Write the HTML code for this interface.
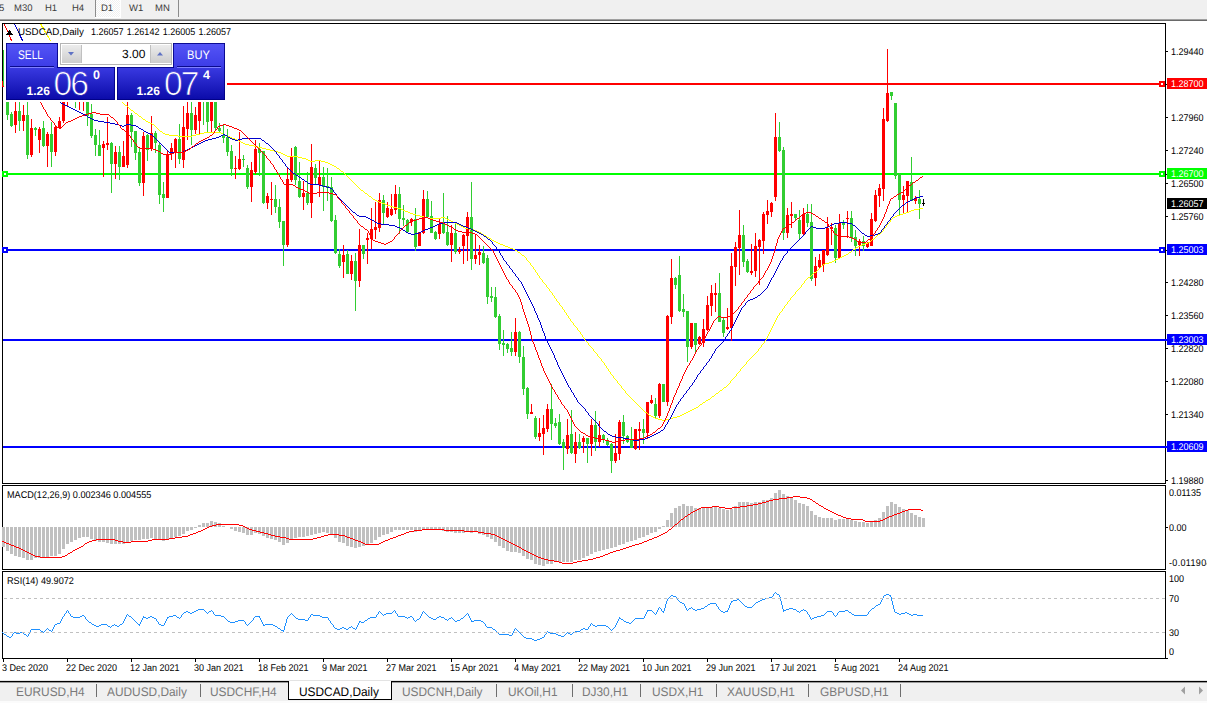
<!DOCTYPE html>
<html><head><meta charset="utf-8"><title>USDCAD,Daily</title>
<style>
html,body{margin:0;padding:0}
body{width:1207px;height:703px;overflow:hidden;background:#f0f0f0;position:relative;font-family:"Liberation Sans",sans-serif;color:#000;text-rendering:geometricPrecision}
.abs{position:absolute;white-space:nowrap;line-height:1}
#tb span{position:absolute;top:3px;font-size:9.5px;color:#3c3c3c;line-height:12px}
#white{left:0;top:21px;width:1207px;height:659px;background:#fff}
.ax{position:absolute;margin-top:1px;left:1171px;font-size:9.8px;line-height:10px;white-space:nowrap;transform:scaleX(0.92);transform-origin:0 0}
.tag{position:absolute;left:1167px;width:40px;height:11px;color:#fff;white-space:nowrap}
.tag span{position:absolute;left:4px;top:1px;font-size:9.8px;line-height:11px;transform:scaleX(0.92);transform-origin:0 0}
.dt{position:absolute;top:664px;font-size:9.8px;line-height:10px;white-space:nowrap;transform:scaleX(0.92);transform-origin:0 0}
.tab{position:absolute;top:685px;font-size:12.5px;line-height:14px;color:#7a7a7a;white-space:nowrap;transform:scaleX(0.95);transform-origin:0 0}
.sep{position:absolute;top:684px;width:1px;height:13px;background:#6e6e6e}
svg{position:absolute;left:0;top:0}
#panel{position:absolute;left:0;top:0}
#panel div{position:absolute;white-space:nowrap;line-height:1}
</style></head><body>
<div class="abs" style="left:96px;top:0;width:24px;height:17px;background:conic-gradient(#fff 25%,#f0f0f0 0 50%,#fff 0 75%,#f0f0f0 0);background-size:2px 2px"></div>
<div class="abs" style="left:95px;top:17px;width:26px;height:1px;background:#fff"></div>
<div class="abs" style="left:120px;top:0;width:1px;height:17px;background:#fff"></div>
<div id="tb">
<span style="left:-1px">5</span><span style="left:14px">M30</span><span style="left:45px">H1</span><span style="left:72px">H4</span>
<span style="left:101px">D1</span><span style="left:129px">W1</span><span style="left:155px">MN</span>
</div>
<div class="abs" style="left:95px;top:0;width:1px;height:17px;background:#8c8c8c"></div>
<div class="abs" style="left:178px;top:0;width:1px;height:17px;background:#8c8c8c"></div>
<div class="abs" style="left:0;top:19px;width:1207px;height:1px;background:#a0a0a0"></div>
<div class="abs" style="left:0;top:20px;width:1207px;height:1px;background:#696969"></div>
<div class="abs" id="white"></div>
<svg width="1207" height="703" viewBox="0 0 1207 703" shape-rendering="crispEdges">
<!-- pane frames -->
<g fill="none" stroke="#000" stroke-width="1">
<rect x="2.5" y="23.5" width="1163" height="460"/>
<rect x="2.5" y="485.5" width="1163" height="84"/>
<rect x="2.5" y="571.5" width="1163" height="87"/>
</g>
<!-- MA heads -->
<g fill="none" stroke-width="1">
<polyline stroke="#ff0000" points="4,24 8,32 11.5,41"/>
<polyline stroke="#0000cd" points="14.5,24 18,31 22.5,41"/>
<polyline stroke="#ffff00" points="41,24 45,31 50.5,41"/>
</g>
<!-- horizontal levels -->
<rect x="3" y="83" width="1162" height="2" fill="#ff0000"/>
<rect x="3" y="173" width="1162" height="2" fill="#00ff00"/>
<rect x="3" y="249" width="1162" height="2" fill="#0000ff"/>
<rect x="3" y="339" width="1164" height="2" fill="#0000ff"/>
<rect x="3" y="446" width="1164" height="2" fill="#0000ff"/>
<rect x="3" y="50" width="1" height="36" fill="#32cd32"/>
<rect x="2" y="52" width="3" height="34" fill="#32cd32"/>
<rect x="7" y="92" width="1" height="28" fill="#32cd32"/>
<rect x="6" y="96" width="3" height="19" fill="#32cd32"/>
<rect x="11" y="112" width="1" height="15" fill="#32cd32"/>
<rect x="10" y="114" width="3" height="12" fill="#32cd32"/>
<rect x="15" y="95" width="1" height="38" fill="#ff0000"/>
<rect x="14" y="111" width="3" height="14" fill="#ff0000"/>
<rect x="19" y="100" width="1" height="31" fill="#32cd32"/>
<rect x="18" y="111" width="3" height="10" fill="#32cd32"/>
<rect x="23" y="105" width="1" height="26" fill="#ff0000"/>
<rect x="22" y="115" width="3" height="6" fill="#ff0000"/>
<rect x="27" y="96" width="1" height="63" fill="#32cd32"/>
<rect x="26" y="115" width="3" height="40" fill="#32cd32"/>
<rect x="31" y="119" width="1" height="38" fill="#ff0000"/>
<rect x="30" y="128" width="3" height="27" fill="#ff0000"/>
<rect x="35" y="127" width="1" height="9" fill="#32cd32"/>
<rect x="34" y="128" width="3" height="2" fill="#32cd32"/>
<rect x="39" y="127" width="1" height="26" fill="#ff0000"/>
<rect x="38" y="129" width="3" height="11" fill="#ff0000"/>
<rect x="43" y="121" width="1" height="26" fill="#32cd32"/>
<rect x="42" y="128" width="3" height="18" fill="#32cd32"/>
<rect x="47" y="132" width="1" height="35" fill="#ff0000"/>
<rect x="46" y="134" width="3" height="12" fill="#ff0000"/>
<rect x="51" y="122" width="1" height="45" fill="#32cd32"/>
<rect x="50" y="134" width="3" height="18" fill="#32cd32"/>
<rect x="55" y="125" width="1" height="31" fill="#ff0000"/>
<rect x="54" y="127" width="3" height="25" fill="#ff0000"/>
<rect x="59" y="117" width="1" height="12" fill="#ff0000"/>
<rect x="58" y="121" width="3" height="7" fill="#ff0000"/>
<rect x="63" y="93" width="1" height="30" fill="#ff0000"/>
<rect x="62" y="97" width="3" height="24" fill="#ff0000"/>
<rect x="67" y="85" width="1" height="22" fill="#ff0000"/>
<rect x="66" y="88" width="3" height="12" fill="#ff0000"/>
<rect x="71" y="84" width="1" height="15" fill="#ff0000"/>
<rect x="70" y="88" width="3" height="9" fill="#ff0000"/>
<rect x="75" y="86" width="1" height="22" fill="#32cd32"/>
<rect x="74" y="90" width="3" height="10" fill="#32cd32"/>
<rect x="79" y="88" width="1" height="22" fill="#ff0000"/>
<rect x="78" y="92" width="3" height="9" fill="#ff0000"/>
<rect x="83" y="88" width="1" height="23" fill="#ff0000"/>
<rect x="82" y="92" width="3" height="10" fill="#ff0000"/>
<rect x="87" y="92" width="1" height="34" fill="#32cd32"/>
<rect x="86" y="96" width="3" height="20" fill="#32cd32"/>
<rect x="91" y="104" width="1" height="34" fill="#32cd32"/>
<rect x="90" y="114" width="3" height="22" fill="#32cd32"/>
<rect x="95" y="129" width="1" height="27" fill="#32cd32"/>
<rect x="94" y="135" width="3" height="10" fill="#32cd32"/>
<rect x="99" y="130" width="1" height="26" fill="#32cd32"/>
<rect x="98" y="145" width="3" height="11" fill="#32cd32"/>
<rect x="103" y="141" width="1" height="36" fill="#ff0000"/>
<rect x="102" y="144" width="3" height="4" fill="#ff0000"/>
<rect x="107" y="117" width="1" height="33" fill="#ff0000"/>
<rect x="106" y="143" width="3" height="2" fill="#ff0000"/>
<rect x="111" y="142" width="1" height="51" fill="#32cd32"/>
<rect x="110" y="143" width="3" height="21" fill="#32cd32"/>
<rect x="115" y="146" width="1" height="33" fill="#ff0000"/>
<rect x="114" y="152" width="3" height="12" fill="#ff0000"/>
<rect x="119" y="146" width="1" height="34" fill="#32cd32"/>
<rect x="118" y="152" width="3" height="15" fill="#32cd32"/>
<rect x="123" y="141" width="1" height="26" fill="#ff0000"/>
<rect x="122" y="156" width="3" height="11" fill="#ff0000"/>
<rect x="127" y="92" width="1" height="76" fill="#ff0000"/>
<rect x="126" y="115" width="3" height="50" fill="#ff0000"/>
<rect x="131" y="113" width="1" height="34" fill="#32cd32"/>
<rect x="130" y="115" width="3" height="17" fill="#32cd32"/>
<rect x="135" y="131" width="1" height="29" fill="#32cd32"/>
<rect x="134" y="131" width="3" height="22" fill="#32cd32"/>
<rect x="139" y="148" width="1" height="38" fill="#32cd32"/>
<rect x="138" y="152" width="3" height="31" fill="#32cd32"/>
<rect x="143" y="132" width="1" height="64" fill="#ff0000"/>
<rect x="142" y="136" width="3" height="47" fill="#ff0000"/>
<rect x="147" y="134" width="1" height="27" fill="#32cd32"/>
<rect x="146" y="135" width="3" height="15" fill="#32cd32"/>
<rect x="151" y="116" width="1" height="35" fill="#ff0000"/>
<rect x="150" y="133" width="3" height="16" fill="#ff0000"/>
<rect x="155" y="131" width="1" height="22" fill="#32cd32"/>
<rect x="154" y="133" width="3" height="10" fill="#32cd32"/>
<rect x="159" y="143" width="1" height="61" fill="#32cd32"/>
<rect x="158" y="145" width="3" height="50" fill="#32cd32"/>
<rect x="163" y="182" width="1" height="30" fill="#32cd32"/>
<rect x="162" y="194" width="3" height="4" fill="#32cd32"/>
<rect x="167" y="151" width="1" height="47" fill="#ff0000"/>
<rect x="166" y="154" width="3" height="44" fill="#ff0000"/>
<rect x="171" y="143" width="1" height="17" fill="#ff0000"/>
<rect x="170" y="148" width="3" height="6" fill="#ff0000"/>
<rect x="175" y="138" width="1" height="30" fill="#ff0000"/>
<rect x="174" y="139" width="3" height="14" fill="#ff0000"/>
<rect x="179" y="124" width="1" height="40" fill="#32cd32"/>
<rect x="178" y="139" width="3" height="20" fill="#32cd32"/>
<rect x="183" y="106" width="1" height="62" fill="#ff0000"/>
<rect x="182" y="127" width="3" height="33" fill="#ff0000"/>
<rect x="187" y="95" width="1" height="45" fill="#ff0000"/>
<rect x="186" y="113" width="3" height="16" fill="#ff0000"/>
<rect x="191" y="95" width="1" height="50" fill="#32cd32"/>
<rect x="190" y="113" width="3" height="17" fill="#32cd32"/>
<rect x="195" y="107" width="1" height="27" fill="#ff0000"/>
<rect x="194" y="115" width="3" height="15" fill="#ff0000"/>
<rect x="199" y="90" width="1" height="44" fill="#ff0000"/>
<rect x="198" y="95" width="3" height="26" fill="#ff0000"/>
<rect x="203" y="88" width="1" height="37" fill="#32cd32"/>
<rect x="202" y="92" width="3" height="7" fill="#32cd32"/>
<rect x="207" y="90" width="1" height="42" fill="#32cd32"/>
<rect x="206" y="95" width="3" height="27" fill="#32cd32"/>
<rect x="211" y="90" width="1" height="42" fill="#ff0000"/>
<rect x="210" y="96" width="3" height="25" fill="#ff0000"/>
<rect x="215" y="92" width="1" height="39" fill="#32cd32"/>
<rect x="214" y="96" width="3" height="32" fill="#32cd32"/>
<rect x="219" y="123" width="1" height="10" fill="#32cd32"/>
<rect x="218" y="128" width="3" height="3" fill="#32cd32"/>
<rect x="223" y="124" width="1" height="19" fill="#32cd32"/>
<rect x="222" y="135" width="3" height="3" fill="#32cd32"/>
<rect x="227" y="129" width="1" height="27" fill="#32cd32"/>
<rect x="226" y="137" width="3" height="15" fill="#32cd32"/>
<rect x="231" y="145" width="1" height="31" fill="#32cd32"/>
<rect x="230" y="151" width="3" height="18" fill="#32cd32"/>
<rect x="235" y="156" width="1" height="23" fill="#ff0000"/>
<rect x="234" y="168" width="3" height="1" fill="#ff0000"/>
<rect x="239" y="132" width="1" height="38" fill="#ff0000"/>
<rect x="238" y="159" width="3" height="10" fill="#ff0000"/>
<rect x="243" y="155" width="1" height="12" fill="#32cd32"/>
<rect x="242" y="159" width="3" height="1" fill="#32cd32"/>
<rect x="247" y="165" width="1" height="24" fill="#32cd32"/>
<rect x="246" y="168" width="3" height="19" fill="#32cd32"/>
<rect x="251" y="162" width="1" height="40" fill="#ff0000"/>
<rect x="250" y="170" width="3" height="17" fill="#ff0000"/>
<rect x="255" y="140" width="1" height="34" fill="#ff0000"/>
<rect x="254" y="149" width="3" height="23" fill="#ff0000"/>
<rect x="259" y="143" width="1" height="33" fill="#32cd32"/>
<rect x="258" y="149" width="3" height="4" fill="#32cd32"/>
<rect x="263" y="151" width="1" height="53" fill="#32cd32"/>
<rect x="262" y="151" width="3" height="52" fill="#32cd32"/>
<rect x="267" y="193" width="1" height="16" fill="#ff0000"/>
<rect x="266" y="196" width="3" height="7" fill="#ff0000"/>
<rect x="271" y="182" width="1" height="33" fill="#ff0000"/>
<rect x="270" y="199" width="3" height="1" fill="#ff0000"/>
<rect x="275" y="185" width="1" height="28" fill="#32cd32"/>
<rect x="274" y="199" width="3" height="8" fill="#32cd32"/>
<rect x="279" y="199" width="1" height="29" fill="#32cd32"/>
<rect x="278" y="207" width="3" height="15" fill="#32cd32"/>
<rect x="283" y="221" width="1" height="45" fill="#32cd32"/>
<rect x="282" y="221" width="3" height="24" fill="#32cd32"/>
<rect x="287" y="167" width="1" height="80" fill="#ff0000"/>
<rect x="286" y="179" width="3" height="66" fill="#ff0000"/>
<rect x="291" y="148" width="1" height="34" fill="#ff0000"/>
<rect x="290" y="157" width="3" height="23" fill="#ff0000"/>
<rect x="295" y="146" width="1" height="39" fill="#32cd32"/>
<rect x="294" y="147" width="3" height="33" fill="#32cd32"/>
<rect x="299" y="162" width="1" height="36" fill="#32cd32"/>
<rect x="298" y="181" width="3" height="16" fill="#32cd32"/>
<rect x="303" y="181" width="1" height="29" fill="#ff0000"/>
<rect x="302" y="193" width="3" height="4" fill="#ff0000"/>
<rect x="307" y="172" width="1" height="33" fill="#32cd32"/>
<rect x="306" y="193" width="3" height="10" fill="#32cd32"/>
<rect x="311" y="144" width="1" height="74" fill="#ff0000"/>
<rect x="310" y="167" width="3" height="36" fill="#ff0000"/>
<rect x="315" y="164" width="1" height="20" fill="#32cd32"/>
<rect x="314" y="168" width="3" height="10" fill="#32cd32"/>
<rect x="319" y="161" width="1" height="36" fill="#ff0000"/>
<rect x="318" y="177" width="3" height="8" fill="#ff0000"/>
<rect x="323" y="167" width="1" height="44" fill="#32cd32"/>
<rect x="322" y="177" width="3" height="10" fill="#32cd32"/>
<rect x="327" y="168" width="1" height="33" fill="#32cd32"/>
<rect x="326" y="186" width="3" height="2" fill="#32cd32"/>
<rect x="331" y="177" width="1" height="45" fill="#32cd32"/>
<rect x="330" y="187" width="3" height="34" fill="#32cd32"/>
<rect x="335" y="215" width="1" height="39" fill="#32cd32"/>
<rect x="334" y="220" width="3" height="33" fill="#32cd32"/>
<rect x="339" y="249" width="1" height="19" fill="#32cd32"/>
<rect x="338" y="254" width="3" height="12" fill="#32cd32"/>
<rect x="343" y="245" width="1" height="33" fill="#ff0000"/>
<rect x="342" y="255" width="3" height="7" fill="#ff0000"/>
<rect x="347" y="250" width="1" height="24" fill="#32cd32"/>
<rect x="346" y="254" width="3" height="20" fill="#32cd32"/>
<rect x="351" y="255" width="1" height="25" fill="#ff0000"/>
<rect x="350" y="261" width="3" height="13" fill="#ff0000"/>
<rect x="355" y="253" width="1" height="58" fill="#32cd32"/>
<rect x="354" y="261" width="3" height="20" fill="#32cd32"/>
<rect x="359" y="229" width="1" height="58" fill="#ff0000"/>
<rect x="358" y="245" width="3" height="36" fill="#ff0000"/>
<rect x="363" y="245" width="1" height="14" fill="#32cd32"/>
<rect x="362" y="245" width="3" height="9" fill="#32cd32"/>
<rect x="367" y="233" width="1" height="31" fill="#ff0000"/>
<rect x="366" y="238" width="3" height="2" fill="#ff0000"/>
<rect x="371" y="208" width="1" height="41" fill="#ff0000"/>
<rect x="370" y="229" width="3" height="10" fill="#ff0000"/>
<rect x="375" y="202" width="1" height="37" fill="#ff0000"/>
<rect x="374" y="227" width="3" height="3" fill="#ff0000"/>
<rect x="379" y="193" width="1" height="39" fill="#ff0000"/>
<rect x="378" y="200" width="3" height="28" fill="#ff0000"/>
<rect x="383" y="195" width="1" height="29" fill="#32cd32"/>
<rect x="382" y="200" width="3" height="13" fill="#32cd32"/>
<rect x="387" y="202" width="1" height="16" fill="#ff0000"/>
<rect x="386" y="208" width="3" height="9" fill="#ff0000"/>
<rect x="391" y="194" width="1" height="22" fill="#ff0000"/>
<rect x="390" y="209" width="3" height="6" fill="#ff0000"/>
<rect x="395" y="185" width="1" height="29" fill="#ff0000"/>
<rect x="394" y="194" width="3" height="16" fill="#ff0000"/>
<rect x="399" y="187" width="1" height="47" fill="#32cd32"/>
<rect x="398" y="194" width="3" height="25" fill="#32cd32"/>
<rect x="403" y="205" width="1" height="21" fill="#32cd32"/>
<rect x="402" y="218" width="3" height="2" fill="#32cd32"/>
<rect x="407" y="219" width="1" height="14" fill="#32cd32"/>
<rect x="406" y="220" width="3" height="12" fill="#32cd32"/>
<rect x="411" y="218" width="1" height="8" fill="#ff0000"/>
<rect x="410" y="219" width="3" height="3" fill="#ff0000"/>
<rect x="415" y="208" width="1" height="43" fill="#32cd32"/>
<rect x="414" y="219" width="3" height="28" fill="#32cd32"/>
<rect x="419" y="232" width="1" height="14" fill="#ff0000"/>
<rect x="418" y="232" width="3" height="14" fill="#ff0000"/>
<rect x="423" y="190" width="1" height="44" fill="#ff0000"/>
<rect x="422" y="199" width="3" height="34" fill="#ff0000"/>
<rect x="427" y="191" width="1" height="27" fill="#32cd32"/>
<rect x="426" y="199" width="3" height="18" fill="#32cd32"/>
<rect x="431" y="201" width="1" height="32" fill="#32cd32"/>
<rect x="430" y="216" width="3" height="17" fill="#32cd32"/>
<rect x="435" y="231" width="1" height="9" fill="#32cd32"/>
<rect x="434" y="232" width="3" height="7" fill="#32cd32"/>
<rect x="439" y="218" width="1" height="21" fill="#ff0000"/>
<rect x="438" y="224" width="3" height="10" fill="#ff0000"/>
<rect x="443" y="193" width="1" height="41" fill="#32cd32"/>
<rect x="442" y="224" width="3" height="9" fill="#32cd32"/>
<rect x="447" y="216" width="1" height="30" fill="#32cd32"/>
<rect x="446" y="232" width="3" height="13" fill="#32cd32"/>
<rect x="451" y="225" width="1" height="37" fill="#ff0000"/>
<rect x="450" y="233" width="3" height="12" fill="#ff0000"/>
<rect x="455" y="224" width="1" height="30" fill="#32cd32"/>
<rect x="454" y="233" width="3" height="19" fill="#32cd32"/>
<rect x="459" y="247" width="1" height="7" fill="#ff0000"/>
<rect x="458" y="250" width="3" height="2" fill="#ff0000"/>
<rect x="463" y="234" width="1" height="30" fill="#ff0000"/>
<rect x="462" y="235" width="3" height="11" fill="#ff0000"/>
<rect x="467" y="212" width="1" height="49" fill="#ff0000"/>
<rect x="466" y="217" width="3" height="19" fill="#ff0000"/>
<rect x="471" y="182" width="1" height="88" fill="#32cd32"/>
<rect x="470" y="217" width="3" height="42" fill="#32cd32"/>
<rect x="475" y="235" width="1" height="29" fill="#ff0000"/>
<rect x="474" y="255" width="3" height="4" fill="#ff0000"/>
<rect x="479" y="245" width="1" height="20" fill="#ff0000"/>
<rect x="478" y="252" width="3" height="3" fill="#ff0000"/>
<rect x="483" y="246" width="1" height="18" fill="#32cd32"/>
<rect x="482" y="253" width="3" height="10" fill="#32cd32"/>
<rect x="487" y="255" width="1" height="49" fill="#32cd32"/>
<rect x="486" y="258" width="3" height="39" fill="#32cd32"/>
<rect x="491" y="287" width="1" height="15" fill="#32cd32"/>
<rect x="490" y="296" width="3" height="2" fill="#32cd32"/>
<rect x="495" y="287" width="1" height="31" fill="#32cd32"/>
<rect x="494" y="297" width="3" height="20" fill="#32cd32"/>
<rect x="499" y="314" width="1" height="36" fill="#32cd32"/>
<rect x="498" y="316" width="3" height="28" fill="#32cd32"/>
<rect x="503" y="330" width="1" height="26" fill="#32cd32"/>
<rect x="502" y="343" width="3" height="2" fill="#32cd32"/>
<rect x="507" y="343" width="1" height="10" fill="#32cd32"/>
<rect x="506" y="344" width="3" height="5" fill="#32cd32"/>
<rect x="511" y="332" width="1" height="24" fill="#32cd32"/>
<rect x="510" y="348" width="3" height="4" fill="#32cd32"/>
<rect x="515" y="318" width="1" height="38" fill="#ff0000"/>
<rect x="514" y="332" width="3" height="20" fill="#ff0000"/>
<rect x="519" y="331" width="1" height="32" fill="#32cd32"/>
<rect x="518" y="332" width="3" height="25" fill="#32cd32"/>
<rect x="523" y="346" width="1" height="49" fill="#32cd32"/>
<rect x="522" y="357" width="3" height="32" fill="#32cd32"/>
<rect x="527" y="387" width="1" height="32" fill="#32cd32"/>
<rect x="526" y="388" width="3" height="26" fill="#32cd32"/>
<rect x="531" y="404" width="1" height="10" fill="#ff0000"/>
<rect x="530" y="412" width="3" height="2" fill="#ff0000"/>
<rect x="535" y="416" width="1" height="23" fill="#32cd32"/>
<rect x="534" y="418" width="3" height="19" fill="#32cd32"/>
<rect x="539" y="418" width="1" height="23" fill="#ff0000"/>
<rect x="538" y="433" width="3" height="4" fill="#ff0000"/>
<rect x="543" y="415" width="1" height="40" fill="#ff0000"/>
<rect x="542" y="428" width="3" height="6" fill="#ff0000"/>
<rect x="547" y="404" width="1" height="28" fill="#ff0000"/>
<rect x="546" y="409" width="3" height="20" fill="#ff0000"/>
<rect x="551" y="384" width="1" height="56" fill="#32cd32"/>
<rect x="550" y="409" width="3" height="15" fill="#32cd32"/>
<rect x="555" y="418" width="1" height="10" fill="#32cd32"/>
<rect x="554" y="423" width="3" height="3" fill="#32cd32"/>
<rect x="559" y="414" width="1" height="31" fill="#32cd32"/>
<rect x="558" y="422" width="3" height="22" fill="#32cd32"/>
<rect x="563" y="439" width="1" height="31" fill="#32cd32"/>
<rect x="562" y="442" width="3" height="6" fill="#32cd32"/>
<rect x="567" y="419" width="1" height="35" fill="#ff0000"/>
<rect x="566" y="435" width="3" height="14" fill="#ff0000"/>
<rect x="571" y="410" width="1" height="44" fill="#32cd32"/>
<rect x="570" y="434" width="3" height="19" fill="#32cd32"/>
<rect x="575" y="432" width="1" height="31" fill="#ff0000"/>
<rect x="574" y="442" width="3" height="12" fill="#ff0000"/>
<rect x="579" y="434" width="1" height="15" fill="#32cd32"/>
<rect x="578" y="442" width="3" height="6" fill="#32cd32"/>
<rect x="583" y="436" width="1" height="17" fill="#ff0000"/>
<rect x="582" y="438" width="3" height="4" fill="#ff0000"/>
<rect x="587" y="438" width="1" height="25" fill="#32cd32"/>
<rect x="586" y="438" width="3" height="6" fill="#32cd32"/>
<rect x="591" y="419" width="1" height="37" fill="#ff0000"/>
<rect x="590" y="425" width="3" height="19" fill="#ff0000"/>
<rect x="595" y="411" width="1" height="40" fill="#32cd32"/>
<rect x="594" y="425" width="3" height="17" fill="#32cd32"/>
<rect x="599" y="421" width="1" height="26" fill="#ff0000"/>
<rect x="598" y="435" width="3" height="7" fill="#ff0000"/>
<rect x="603" y="434" width="1" height="9" fill="#32cd32"/>
<rect x="602" y="435" width="3" height="5" fill="#32cd32"/>
<rect x="607" y="438" width="1" height="8" fill="#32cd32"/>
<rect x="606" y="441" width="3" height="4" fill="#32cd32"/>
<rect x="611" y="443" width="1" height="30" fill="#32cd32"/>
<rect x="610" y="444" width="3" height="17" fill="#32cd32"/>
<rect x="615" y="434" width="1" height="29" fill="#ff0000"/>
<rect x="614" y="453" width="3" height="8" fill="#ff0000"/>
<rect x="619" y="420" width="1" height="40" fill="#ff0000"/>
<rect x="618" y="422" width="3" height="32" fill="#ff0000"/>
<rect x="623" y="415" width="1" height="29" fill="#32cd32"/>
<rect x="622" y="422" width="3" height="14" fill="#32cd32"/>
<rect x="627" y="435" width="1" height="8" fill="#32cd32"/>
<rect x="626" y="436" width="3" height="6" fill="#32cd32"/>
<rect x="631" y="427" width="1" height="21" fill="#32cd32"/>
<rect x="630" y="440" width="3" height="8" fill="#32cd32"/>
<rect x="635" y="429" width="1" height="21" fill="#ff0000"/>
<rect x="634" y="429" width="3" height="20" fill="#ff0000"/>
<rect x="639" y="422" width="1" height="28" fill="#ff0000"/>
<rect x="638" y="429" width="3" height="2" fill="#ff0000"/>
<rect x="643" y="419" width="1" height="25" fill="#32cd32"/>
<rect x="642" y="429" width="3" height="4" fill="#32cd32"/>
<rect x="647" y="402" width="1" height="37" fill="#ff0000"/>
<rect x="646" y="402" width="3" height="31" fill="#ff0000"/>
<rect x="651" y="395" width="1" height="9" fill="#ff0000"/>
<rect x="650" y="400" width="3" height="3" fill="#ff0000"/>
<rect x="655" y="398" width="1" height="20" fill="#32cd32"/>
<rect x="654" y="404" width="3" height="12" fill="#32cd32"/>
<rect x="659" y="383" width="1" height="35" fill="#ff0000"/>
<rect x="658" y="384" width="3" height="32" fill="#ff0000"/>
<rect x="663" y="384" width="1" height="18" fill="#32cd32"/>
<rect x="662" y="384" width="3" height="18" fill="#32cd32"/>
<rect x="667" y="315" width="1" height="91" fill="#ff0000"/>
<rect x="666" y="316" width="3" height="86" fill="#ff0000"/>
<rect x="671" y="259" width="1" height="65" fill="#ff0000"/>
<rect x="670" y="278" width="3" height="39" fill="#ff0000"/>
<rect x="675" y="277" width="1" height="12" fill="#32cd32"/>
<rect x="674" y="278" width="3" height="7" fill="#32cd32"/>
<rect x="679" y="256" width="1" height="56" fill="#32cd32"/>
<rect x="678" y="275" width="3" height="36" fill="#32cd32"/>
<rect x="683" y="294" width="1" height="23" fill="#32cd32"/>
<rect x="682" y="309" width="3" height="3" fill="#32cd32"/>
<rect x="687" y="311" width="1" height="51" fill="#32cd32"/>
<rect x="686" y="311" width="3" height="36" fill="#32cd32"/>
<rect x="691" y="323" width="1" height="26" fill="#ff0000"/>
<rect x="690" y="323" width="3" height="24" fill="#ff0000"/>
<rect x="695" y="323" width="1" height="31" fill="#32cd32"/>
<rect x="694" y="323" width="3" height="22" fill="#32cd32"/>
<rect x="699" y="336" width="1" height="9" fill="#ff0000"/>
<rect x="698" y="337" width="3" height="7" fill="#ff0000"/>
<rect x="703" y="319" width="1" height="28" fill="#ff0000"/>
<rect x="702" y="329" width="3" height="14" fill="#ff0000"/>
<rect x="707" y="296" width="1" height="35" fill="#ff0000"/>
<rect x="706" y="305" width="3" height="25" fill="#ff0000"/>
<rect x="711" y="285" width="1" height="31" fill="#ff0000"/>
<rect x="710" y="293" width="3" height="13" fill="#ff0000"/>
<rect x="715" y="283" width="1" height="29" fill="#ff0000"/>
<rect x="714" y="293" width="3" height="2" fill="#ff0000"/>
<rect x="719" y="273" width="1" height="49" fill="#32cd32"/>
<rect x="718" y="293" width="3" height="29" fill="#32cd32"/>
<rect x="723" y="318" width="1" height="19" fill="#32cd32"/>
<rect x="722" y="320" width="3" height="13" fill="#32cd32"/>
<rect x="727" y="308" width="1" height="22" fill="#ff0000"/>
<rect x="726" y="327" width="3" height="2" fill="#ff0000"/>
<rect x="731" y="253" width="1" height="88" fill="#ff0000"/>
<rect x="730" y="266" width="3" height="62" fill="#ff0000"/>
<rect x="735" y="242" width="1" height="44" fill="#ff0000"/>
<rect x="734" y="247" width="3" height="20" fill="#ff0000"/>
<rect x="739" y="210" width="1" height="65" fill="#ff0000"/>
<rect x="738" y="235" width="3" height="13" fill="#ff0000"/>
<rect x="743" y="225" width="1" height="42" fill="#32cd32"/>
<rect x="742" y="235" width="3" height="27" fill="#32cd32"/>
<rect x="747" y="259" width="1" height="14" fill="#32cd32"/>
<rect x="746" y="261" width="3" height="11" fill="#32cd32"/>
<rect x="751" y="244" width="1" height="31" fill="#ff0000"/>
<rect x="750" y="271" width="3" height="2" fill="#ff0000"/>
<rect x="755" y="233" width="1" height="44" fill="#ff0000"/>
<rect x="754" y="246" width="3" height="25" fill="#ff0000"/>
<rect x="759" y="239" width="1" height="46" fill="#ff0000"/>
<rect x="758" y="240" width="3" height="7" fill="#ff0000"/>
<rect x="763" y="212" width="1" height="42" fill="#ff0000"/>
<rect x="762" y="214" width="3" height="27" fill="#ff0000"/>
<rect x="767" y="200" width="1" height="24" fill="#ff0000"/>
<rect x="766" y="211" width="3" height="4" fill="#ff0000"/>
<rect x="771" y="202" width="1" height="15" fill="#ff0000"/>
<rect x="770" y="203" width="3" height="9" fill="#ff0000"/>
<rect x="775" y="113" width="1" height="88" fill="#ff0000"/>
<rect x="774" y="137" width="3" height="60" fill="#ff0000"/>
<rect x="779" y="122" width="1" height="30" fill="#32cd32"/>
<rect x="778" y="137" width="3" height="14" fill="#32cd32"/>
<rect x="783" y="147" width="1" height="93" fill="#32cd32"/>
<rect x="782" y="150" width="3" height="83" fill="#32cd32"/>
<rect x="787" y="208" width="1" height="30" fill="#ff0000"/>
<rect x="786" y="215" width="3" height="18" fill="#ff0000"/>
<rect x="791" y="202" width="1" height="26" fill="#ff0000"/>
<rect x="790" y="214" width="3" height="2" fill="#ff0000"/>
<rect x="795" y="214" width="1" height="6" fill="#32cd32"/>
<rect x="794" y="214" width="3" height="4" fill="#32cd32"/>
<rect x="799" y="210" width="1" height="29" fill="#32cd32"/>
<rect x="798" y="220" width="3" height="14" fill="#32cd32"/>
<rect x="803" y="208" width="1" height="27" fill="#ff0000"/>
<rect x="802" y="214" width="3" height="20" fill="#ff0000"/>
<rect x="807" y="204" width="1" height="23" fill="#32cd32"/>
<rect x="806" y="214" width="3" height="9" fill="#32cd32"/>
<rect x="811" y="204" width="1" height="77" fill="#32cd32"/>
<rect x="810" y="222" width="3" height="57" fill="#32cd32"/>
<rect x="815" y="257" width="1" height="29" fill="#ff0000"/>
<rect x="814" y="266" width="3" height="12" fill="#ff0000"/>
<rect x="819" y="254" width="1" height="14" fill="#ff0000"/>
<rect x="818" y="260" width="3" height="7" fill="#ff0000"/>
<rect x="823" y="250" width="1" height="22" fill="#ff0000"/>
<rect x="822" y="250" width="3" height="15" fill="#ff0000"/>
<rect x="827" y="217" width="1" height="39" fill="#ff0000"/>
<rect x="826" y="228" width="3" height="27" fill="#ff0000"/>
<rect x="831" y="223" width="1" height="22" fill="#ff0000"/>
<rect x="830" y="227" width="3" height="2" fill="#ff0000"/>
<rect x="835" y="225" width="1" height="38" fill="#32cd32"/>
<rect x="834" y="228" width="3" height="30" fill="#32cd32"/>
<rect x="839" y="214" width="1" height="45" fill="#ff0000"/>
<rect x="838" y="223" width="3" height="35" fill="#ff0000"/>
<rect x="843" y="220" width="1" height="9" fill="#32cd32"/>
<rect x="842" y="222" width="3" height="3" fill="#32cd32"/>
<rect x="847" y="211" width="1" height="27" fill="#ff0000"/>
<rect x="846" y="218" width="3" height="1" fill="#ff0000"/>
<rect x="851" y="211" width="1" height="31" fill="#32cd32"/>
<rect x="850" y="218" width="3" height="20" fill="#32cd32"/>
<rect x="855" y="230" width="1" height="26" fill="#32cd32"/>
<rect x="854" y="237" width="3" height="9" fill="#32cd32"/>
<rect x="859" y="239" width="1" height="17" fill="#ff0000"/>
<rect x="858" y="241" width="3" height="4" fill="#ff0000"/>
<rect x="863" y="236" width="1" height="15" fill="#32cd32"/>
<rect x="862" y="241" width="3" height="5" fill="#32cd32"/>
<rect x="867" y="242" width="1" height="6" fill="#ff0000"/>
<rect x="866" y="243" width="3" height="4" fill="#ff0000"/>
<rect x="871" y="213" width="1" height="33" fill="#ff0000"/>
<rect x="870" y="219" width="3" height="27" fill="#ff0000"/>
<rect x="875" y="190" width="1" height="32" fill="#ff0000"/>
<rect x="874" y="195" width="3" height="26" fill="#ff0000"/>
<rect x="879" y="184" width="1" height="23" fill="#ff0000"/>
<rect x="878" y="188" width="3" height="8" fill="#ff0000"/>
<rect x="883" y="108" width="1" height="93" fill="#ff0000"/>
<rect x="882" y="119" width="3" height="70" fill="#ff0000"/>
<rect x="887" y="49" width="1" height="73" fill="#ff0000"/>
<rect x="886" y="93" width="3" height="28" fill="#ff0000"/>
<rect x="891" y="92" width="1" height="8" fill="#32cd32"/>
<rect x="890" y="92" width="3" height="4" fill="#32cd32"/>
<rect x="895" y="103" width="1" height="76" fill="#32cd32"/>
<rect x="894" y="103" width="3" height="73" fill="#32cd32"/>
<rect x="899" y="173" width="1" height="43" fill="#32cd32"/>
<rect x="898" y="174" width="3" height="26" fill="#32cd32"/>
<rect x="903" y="186" width="1" height="27" fill="#ff0000"/>
<rect x="902" y="195" width="3" height="5" fill="#ff0000"/>
<rect x="907" y="181" width="1" height="32" fill="#ff0000"/>
<rect x="906" y="181" width="3" height="15" fill="#ff0000"/>
<rect x="911" y="157" width="1" height="44" fill="#32cd32"/>
<rect x="910" y="182" width="3" height="19" fill="#32cd32"/>
<rect x="915" y="196" width="1" height="8" fill="#ff0000"/>
<rect x="914" y="198" width="3" height="3" fill="#ff0000"/>
<rect x="919" y="190" width="1" height="29" fill="#32cd32"/>
<rect x="918" y="199" width="3" height="5" fill="#32cd32"/>
<rect x="923" y="199" width="1" height="7" fill="#000"/>
<rect x="922" y="203" width="3" height="1" fill="#000"/>
<path fill="none" stroke="#ffff00" stroke-width="1" d="M428,218.5h13M445,218.5h2M451,221.5h2M832,261.5h2M655,418.5h3M670,418.5h3M397,208.5h4M919,208.5h4M308,160.5h2M315,160.5h6M287,156.5h11M457,224.5h2M469,229.5h5M169,135.5h9M192,135.5h4M225,135.5h2M285,155.5h2M825,263.5h4M274,151.5h4M204,132.5h17M258,147.5h4M653,417.5h2M673,417.5h4M114,98.5h2M298,157.5h4M403,210.5h2M911,210.5h3M808,277.5h2M178,136.5h14M227,136.5h3M645,412.5h2M686,412.5h2M500,244.5h3M862,244.5h3M405,211.5h3M909,211.5h2M658,419.5h4M666,419.5h4M846,254.5h2M150,123.5h2M118,100.5h2M408,212.5h2M906,212.5h3M505,246.5h3M858,246.5h2M662,420.5h4M706,400.5h2M152,124.5h2M401,209.5h2M914,209.5h5M361,190.5h2M310,161.5h5M321,161.5h4M410,213.5h3M903,213.5h3M474,230.5h3M694,408.5h2M302,158.5h4M107,94.5h2M283,154.5h2M416,215.5h4M897,215.5h3M449,220.5h2M148,122.5h2M165,134.5h4M196,134.5h4M223,134.5h2M377,201.5h2M306,159.5h2M522,255.5h2M844,255.5h2M81,77.5h2M842,256.5h2M103,92.5h2M278,152.5h3M163,133.5h2M200,133.5h4M221,133.5h2M373,199.5h2M413,214.5h3M900,214.5h3M510,248.5h3M461,226.5h2M682,414.5h2M424,217.5h4M441,217.5h4M893,217.5h2M143,119.5h2M235,139.5h2M379,202.5h3M494,241.5h2M230,137.5h2M375,200.5h2M716,393.5h2M459,225.5h2M489,238.5h2M139,116.5h2M98,89.5h2M420,216.5h4M895,216.5h2M369,196.5h2M463,227.5h2M838,258.5h2M266,149.5h4M95,87.5h2M249,145.5h5M498,243.5h2M865,243.5h3M241,142.5h2M651,416.5h2M677,416.5h3M232,138.5h3M518,252.5h2M849,252.5h2M823,264.5h2M484,235.5h2M387,205.5h3M447,219.5h2M455,223.5h2M508,247.5h2M856,247.5h2M479,232.5h2M696,407.5h2M503,245.5h2M860,245.5h2M390,206.5h3M125,105.5h2M330,164.5h2M496,242.5h2M868,242.5h2M237,140.5h2M515,250.5h2M829,262.5h3M720,390.5h2M332,165.5h2M382,203.5h3M708,399.5h2M465,228.5h4M700,404.5h2M814,272.5h2M692,409.5h2M834,260.5h2M724,387.5h2M712,396.5h2M334,166.5h2M453,222.5h2M492,240.5h2M328,163.5h2M135,113.5h2M840,257.5h2M393,207.5h4M270,150.5h4M513,249.5h2M853,249.5h2M365,193.5h2M91,84.5h2M836,259.5h2M482,234.5h2M878,234.5h2M281,153.5h2M688,411.5h2M254,146.5h4M120,101.5h2M477,231.5h2M649,415.5h2M680,415.5h2M116,99.5h2M101,91.5h2M112,97.5h2M131,110.5h2M684,413.5h2M872,239.5h2M262,148.5h4M85,80.5h2M690,410.5h2M243,143.5h2M703,402.5h2M341,171.5h2M239,141.5h2M385,204.5h2M160,131.5h2M245,144.5h4M337,168.5h2M487,237.5h2M325,162.5h3M88,82.5h2M146,121.5h2M105,93.5h2M109,95.5h2M812.5,274v1M890.5,220v2M48.5,36v2M638.5,405v1M887.5,224v1M590.5,346v1M805.5,280v1M591.5,347v1M773.5,324v2M352.5,181v1M66.5,62v1M597.5,354v2M797.5,290v1M67.5,63v1M344.5,173v1M734.5,377v1M702.5,403v1M757.5,351v1M601.5,359v2M111.5,96v1M745.5,364v1M714.5,395v1M535.5,270v2M133.5,111v1M764.5,341v2M73.5,69v1M729.5,383v1M718.5,392v1M816.5,271v1M615.5,379v1M74.5,70v1M539.5,276v2M589.5,345v1M777.5,316v2M363.5,191v1M546.5,285v2M722.5,389v1M55.5,47v2M616.5,380v1M549.5,289v2M59.5,53v2M550.5,291v1M80.5,76v1M340.5,170v1M737.5,373v1M564.5,310v2M524.5,256v1M776.5,318v2M851.5,251v1M568.5,316v2M578.5,330v1M855.5,248v1M886.5,225v2M748.5,360v1M780.5,312v1M579.5,331v1M582.5,335v2M772.5,326v2M54.5,46v1M351.5,180v1M870.5,241v1M740.5,369v2M626.5,393v1M874.5,238v1M820.5,267v1M129.5,108v1M563.5,309v1M600.5,358v1M760.5,347v1M358.5,187v1M162.5,132v1M94.5,86v1M804.5,281v2M534.5,269v1M807.5,278v1M604.5,363v2M633.5,400v1M537.5,273v2M577.5,328v2M755.5,353v1M788.5,301v1M538.5,275v1M767.5,336v2M799.5,288v1M877.5,235v1M336.5,167v1M58.5,52v1M61.5,56v2M736.5,374v2M881.5,232v1M640.5,407v1M552.5,293v2M62.5,58v1M593.5,349v2M625.5,391v2M796.5,291v1M763.5,343v1M553.5,295v1M566.5,313v2M158.5,129v1M567.5,315v1M68.5,64v1M779.5,313v2M570.5,319v2M527.5,260v1M744.5,365v1M791.5,297v1M811.5,275v1M69.5,65v1M705.5,401v1M889.5,222v1M892.5,218v1M533.5,267v2M603.5,362v1M124.5,104v1M884.5,228v1M752.5,356v1M775.5,320v2M802.5,284v1M364.5,192v1M639.5,406v1M618.5,383v1M57.5,50v2M76.5,72v1M90.5,83v1M368.5,195v1M592.5,348v1M481.5,233v1M771.5,328v2M526.5,258v2M818.5,269v1M728.5,384v1M345.5,174v1M580.5,332v2M617.5,381v2M346.5,175v1M607.5,368v1M540.5,278v1M134.5,112v1M581.5,334v1M770.5,330v2M584.5,338v2M60.5,55v1M541.5,279v1M739.5,371v1M75.5,71v1M353.5,182v1M787.5,302v2M551.5,292v1M766.5,338v2M628.5,395v1M569.5,318v1M602.5,361v1M747.5,361v1M525.5,257v1M782.5,309v2M573.5,323v2M731.5,380v1M883.5,229v2M360.5,189v1M774.5,322v2M606.5,366v2M742.5,367v1M699.5,405v1M876.5,236v1M822.5,265v1M711.5,397v1M790.5,298v2M715.5,394v1M554.5,296v2M759.5,348v1M762.5,344v1M594.5,351v1M627.5,394v1M719.5,391v1M555.5,298v1M64.5,60v1M595.5,352v1M130.5,109v1M754.5,354v1M801.5,285v2M359.5,188v1M634.5,401v1M726.5,386v1M583.5,337v1M798.5,289v1M635.5,402v1M145.5,120v1M520.5,253v1M765.5,340v1M521.5,254v1M746.5,362v2M641.5,408v1M793.5,295v1M100.5,90v1M813.5,273v1M620.5,385v1M778.5,315v1M63.5,59v1M642.5,409v1M817.5,270v1M891.5,219v1M785.5,305v1M605.5,365v1M608.5,369v2M528.5,261v1M769.5,332v2M70.5,66v1M609.5,371v1M542.5,280v2M619.5,384v1M848.5,253v1M348.5,177v1M41.5,25v2M543.5,282v1M44.5,30v2M749.5,359v1M45.5,32v1M730.5,381v2M557.5,301v1M159.5,130v1M781.5,311v1M571.5,321v1M598.5,356v1M491.5,239v1M141.5,117v1M572.5,322v1M741.5,368v1M761.5,345v2M486.5,236v1M517.5,251v1M648.5,414v1M586.5,341v1M40.5,24v1M733.5,378v1M77.5,73v1M556.5,299v2M784.5,306v2M882.5,231v1M355.5,184v1M800.5,287v1M629.5,396v1M630.5,397v1M347.5,176v1M611.5,374v1M795.5,292v2M585.5,340v1M698.5,406v1M43.5,28v2M51.5,41v2M122.5,102v1M87.5,81v1M637.5,404v1M47.5,35v1M354.5,183v1M756.5,352v1M768.5,334v2M622.5,388v1M803.5,283v1M596.5,353v1M885.5,227v1M574.5,325v1M644.5,411v1M647.5,413v1M610.5,372v2M530.5,263v2M636.5,403v1M531.5,265v1M621.5,386v2M792.5,296v1M544.5,283v1M154.5,125v1M819.5,268v1M545.5,284v1M155.5,126v1M65.5,61v1M559.5,303v2M888.5,223v1M560.5,305v1M880.5,233v1M83.5,78v1M751.5,357v1M343.5,172v1M72.5,68v1M84.5,79v1M46.5,33v2M49.5,38v2M97.5,88v1M588.5,343v2M732.5,379v1M42.5,27v1M50.5,40v1M783.5,308v1M350.5,179v1M806.5,279v1M643.5,410v1M339.5,169v1M743.5,366v1M558.5,302v1M810.5,276v1M127.5,106v1M128.5,107v1M529.5,262v1M599.5,357v1M357.5,186v1M735.5,376v1M738.5,372v1M71.5,67v1M758.5,349v2M142.5,118v1M371.5,197v1M613.5,376v2M632.5,399v1M349.5,178v1M852.5,250v1M372.5,198v1M614.5,378v1M53.5,44v2M786.5,304v1M587.5,342v1M78.5,74v1M723.5,388v1M548.5,288v1M79.5,75v1M356.5,185v1M727.5,385v1M871.5,240v1M562.5,307v2M93.5,85v1M821.5,266v1M532.5,266v1M52.5,43v1M123.5,103v1M623.5,389v1M547.5,287v1M137.5,114v1M156.5,127v1M753.5,355v1M56.5,49v1M624.5,390v1M138.5,115v1M157.5,128v1M875.5,237v1M367.5,194v1M561.5,306v1M631.5,398v1M794.5,294v1M750.5,358v1M575.5,326v1M612.5,375v1M565.5,312v1M710.5,398v1M576.5,327v1M536.5,272v1M789.5,300v1"/>
<path fill="none" stroke="#0000cd" stroke-width="1" d="M201,142.5h2M375,222.5h2M444,222.5h13M839,222.5h8M208,139.5h4M232,139.5h3M238,139.5h4M221,135.5h2M225,135.5h2M397,227.5h3M430,227.5h3M466,227.5h2M813,227.5h3M825,227.5h3M633,440.5h6M104,122.5h6M115,124.5h4M126,124.5h5M758,295.5h2M139,128.5h2M377,223.5h4M439,223.5h5M457,223.5h2M834,223.5h5M847,223.5h5M169,152.5h14M425,229.5h3M471,229.5h2M212,138.5h4M230,138.5h2M242,138.5h19M141,129.5h2M400,228.5h2M428,228.5h2M468,228.5h3M816,228.5h9M110,123.5h5M119,125.5h3M124,125.5h2M131,125.5h5M755,297.5h2M187,149.5h2M310,184.5h9M916,197.5h4M865,235.5h2M870,235.5h5M185,150.5h2M748,300.5h2M408,233.5h3M415,233.5h4M479,233.5h2M862,233.5h2M878,233.5h2M421,231.5h2M475,231.5h2M205,140.5h3M235,140.5h3M262,140.5h2M219,136.5h2M216,137.5h3M228,137.5h2M319,185.5h4M623,438.5h6M645,438.5h2M94,120.5h4M395,226.5h2M433,226.5h2M463,226.5h3M811,226.5h2M828,226.5h2M88,117.5h2M484,236.5h2M867,236.5h3M150,134.5h2M223,134.5h2M98,121.5h6M750,299.5h3M357,215.5h2M79,112.5h2M912,199.5h2M90,118.5h2M83,114.5h2M75,110.5h2M330,188.5h2M189,148.5h2M359,216.5h7M908,201.5h2M197,144.5h2M305,181.5h2M67,106.5h2M323,186.5h4M381,224.5h8M437,224.5h2M459,224.5h2M832,224.5h2M612,436.5h4M650,436.5h2M406,232.5h2M419,232.5h2M477,232.5h2M61,103.5h2M327,187.5h3M389,225.5h6M435,225.5h2M461,225.5h2M830,225.5h2M853,225.5h2M308,183.5h2M71,108.5h2M63,104.5h2M629,439.5h4M639,439.5h6M65,105.5h2M302,179.5h2M183,151.5h2M608,434.5h2M654,434.5h2M753,298.5h2M203,141.5h2M353,212.5h2M920,196.5h3M195,145.5h2M372,220.5h2M293,173.5h2M616,437.5h7M647,437.5h3M368,218.5h2M146,132.5h2M411,234.5h4M481,234.5h2M875,234.5h3M906,202.5h2M910,200.5h2M199,143.5h2M266,143.5h2M604,431.5h2M661,430.5h2M403,230.5h2M423,230.5h2M473,230.5h2M658,432.5h2M296,175.5h2M191,147.5h2M92,119.5h2M122,126.5h2M136,126.5h2M85,115.5h2M81,113.5h2M73,109.5h2M610,435.5h2M652,435.5h2M77,111.5h2M69,107.5h2M370,219.5h2M193,146.5h2M656,433.5h2M488,239.5h2M914,198.5h2M299,177.5h2M366,217.5h2M144,131.5h2M148,133.5h2M902,205.5h2M517.5,277v1M159.5,142v1M700.5,371v2M703.5,367v2M727.5,334v2M538.5,318v2M783.5,256v2M715.5,349v2M21.5,37v2M559.5,367v2M588.5,413v2M771.5,278v2M774.5,273v2M560.5,369v2M544.5,333v3M667.5,422v2M14.5,24v1M32.5,59v2M166.5,149v1M291.5,171v1M723.5,340v2M35.5,64v2M43.5,77v2M779.5,263v2M711.5,356v2M15.5,25v2M167.5,150v1M292.5,172v1M530.5,300v2M36.5,66v2M57.5,97v2M770.5,280v2M739.5,312v2M273.5,149v1M551.5,349v2M47.5,83v2M527.5,294v2M806.5,231v1M684.5,394v1M29.5,53v2M580.5,404v1M548.5,343v2M58.5,99v1M599.5,426v1M663.5,429v1M523.5,286v2M227.5,136v1M581.5,405v1M562.5,373v2M537.5,315v3M855.5,226v1M766.5,288v1M87.5,116v1M545.5,336v3M738.5,314v2M558.5,365v2M284.5,163v1M856.5,227v1M490.5,240v1M782.5,258v2M501.5,255v1M347.5,206v1M798.5,240v1M504.5,260v1M39.5,71v1M675.5,407v2M541.5,325v3M894.5,213v1M687.5,390v1M505.5,261v1M272.5,148v1M734.5,322v2M526.5,292v2M882.5,229v1M699.5,373v1M332.5,189v1M778.5,265v2M28.5,51v2M283.5,162v1M519.5,280v1M718.5,346v1M674.5,409v2M591.5,417v1M534.5,308v3M17.5,29v2M38.5,69v2M690.5,386v1M670.5,417v2M805.5,232v2M500.5,253v2M747.5,301v1M726.5,336v1M901.5,206v1M42.5,75v2M761.5,293v1M154.5,137v1M525.5,290v2M31.5,57v2M598.5,424v2M742.5,307v1M885.5,225v1M60.5,102v1M905.5,203v1M402.5,229v1M518.5,278v2M155.5,138v1M666.5,424v1M486.5,237v1M282.5,160v2M547.5,341v2M793.5,245v1M536.5,313v2M790.5,248v1M161.5,144v1M286.5,166v1M683.5,395v2M808.5,229v1M893.5,214v2M686.5,391v2M162.5,145v1M722.5,342v1M268.5,144v1M301.5,178v1M16.5,27v2M769.5,282v2M45.5,80v2M693.5,382v1M507.5,264v1M678.5,402v2M702.5,369v1M888.5,221v1M705.5,365v1M168.5,151v1M714.5,351v2M46.5,82v1M737.5,316v2M508.5,265v1M27.5,49v2M729.5,331v2M30.5,55v2M773.5,275v2M550.5,347v2M540.5,322v3M335.5,193v1M522.5,284v2M582.5,406v1M800.5,238v1M765.5,289v1M24.5,43v2M583.5,407v1M733.5,324v2M896.5,211v1M342.5,201v1M725.5,337v2M857.5,228v1M492.5,242v2M557.5,362v3M858.5,229v1M741.5,308v2M493.5,244v1M785.5,254v1M788.5,250v1M673.5,411v2M41.5,74v1M777.5,267v2M44.5,79v1M349.5,208v1M665.5,425v2M506.5,262v2M554.5,355v3M334.5,192v1M274.5,150v1M26.5,47v2M546.5,339v2M568.5,385v2M549.5,345v2M59.5,100v2M717.5,347v1M275.5,151v1M521.5,282v2M669.5,419v1M285.5,164v2M264.5,141v1M601.5,428v1M535.5,311v2M23.5,41v2M797.5,241v1M689.5,387v2M884.5,226v2M744.5,305v1M736.5,318v2M681.5,398v1M795.5,243v1M696.5,377v2M40.5,72v2M48.5,85v1M542.5,328v3M571.5,390v2M600.5,427v1M524.5,288v2M52.5,90v2M732.5,326v2M333.5,190v2M156.5,139v1M768.5,284v2M520.5,281v1M138.5,127v1M157.5,140v1M692.5,383v2M887.5,222v2M307.5,182v1M491.5,241v1M804.5,234v1M586.5,411v1M807.5,230v1M763.5,291v1M356.5,214v1M728.5,333v1M677.5,404v1M592.5,418v1M556.5,360v2M164.5,147v1M593.5,419v1M509.5,266v2M574.5,395v2M760.5,294v1M577.5,400v2M336.5,194v2M792.5,246v1M510.5,268v1M567.5,383v2M570.5,388v2M578.5,402v1M852.5,224v1M337.5,196v1M277.5,154v1M810.5,227v1M25.5,45v2M740.5,310v2M787.5,251v2M487.5,238v1M864.5,234v1M22.5,39v2M895.5,212v1M585.5,409v2M724.5,339v1M680.5,399v2M355.5,213v1M660.5,431v1M890.5,218v2M672.5,413v2M344.5,203v1M704.5,366v1M731.5,328v2M163.5,146v1M288.5,168v1M607.5,433v1M719.5,345v1M494.5,245v1M269.5,145v1M802.5,236v1M495.5,246v1M767.5,286v2M573.5,393v2M51.5,89v1M799.5,239v1M668.5,420v2M898.5,209v1M374.5,221v1M566.5,381v2M287.5,167v1M298.5,176v1M695.5,379v1M664.5,427v2M707.5,362v1M584.5,408v1M343.5,202v1M603.5,430v1M606.5,432v1M555.5,358v2M859.5,230v1M531.5,302v2M276.5,152v2M50.5,87v2M483.5,235v1M512.5,270v2M350.5,209v1M569.5,387v1M152.5,135v1M775.5,271v2M54.5,93v2M552.5,351v2M351.5,210v1M676.5,405v2M565.5,379v2M688.5,389v1M735.5,320v2M691.5,385v1M886.5,224v1M265.5,142v1M881.5,230v2M762.5,292v1M710.5,358v1M743.5,306v1M533.5,306v2M143.5,130v1M594.5,420v1M576.5,398v2M595.5,421v1M49.5,86v1M511.5,269v1M671.5,415v2M694.5,380v2M809.5,228v1M279.5,156v2M786.5,253v1M602.5,429v1M339.5,198v1M280.5,158v1M781.5,260v1M158.5,141v1M679.5,401v1M746.5,302v1M900.5,207v1M587.5,412v1M794.5,244v1M532.5,304v2M698.5,374v1M904.5,204v1M165.5,148v1M572.5,392v1M497.5,249v1M897.5,210v1M575.5,397v1M53.5,92v1M515.5,274v2M261.5,139v1M338.5,197v1M889.5,220v1M682.5,397v1M892.5,216v1M706.5,363v2M776.5,269v2M20.5,35v2M561.5,371v2M730.5,330v1M289.5,169v1M701.5,370v1M496.5,247v2M801.5,237v1M713.5,353v1M290.5,170v1M345.5,204v1M772.5,277v1M529.5,298v2M346.5,205v1M579.5,403v1M278.5,155v1M709.5,359v2M789.5,249v1M352.5,211v1M564.5,377v2M721.5,343v1M757.5,296v1M539.5,320v2M56.5,96v1M19.5,33v2M784.5,255v1M543.5,331v2M503.5,258v2M270.5,146v1M590.5,416v1M861.5,232v1M553.5,353v2M271.5,147v1M499.5,251v2M780.5,261v2M528.5,296v2M745.5,303v2M55.5,95v1M304.5,180v1M513.5,272v1M764.5,290v1M153.5,136v1M796.5,242v1M685.5,393v1M514.5,273v1M563.5,375v2M880.5,232v1M697.5,375v2M883.5,228v1M712.5,354v2M281.5,159v1M405.5,231v1M899.5,208v1M18.5,31v2M160.5,143v1M589.5,415v1M716.5,348v1M860.5,231v1M502.5,256v2M33.5,61v2M34.5,63v1M596.5,422v1M37.5,68v1M295.5,174v1M803.5,235v1M597.5,423v1M340.5,199v1M341.5,200v1M791.5,247v1M498.5,250v1M891.5,217v1M708.5,361v1M348.5,207v1M720.5,344v1M516.5,276v1"/>
<path fill="none" stroke="#ff0000" stroke-width="1" d="M239,130.5h2M413,220.5h3M433,220.5h3M822,220.5h2M309,193.5h2M313,193.5h4M329,193.5h4M899,193.5h2M88,113.5h4M96,113.5h4M158,151.5h2M184,151.5h2M462,232.5h10M92,112.5h4M307,192.5h2M317,192.5h12M901,192.5h2M609,441.5h3M616,441.5h5M68,121.5h3M378,242.5h3M388,242.5h2M859,242.5h7M77,117.5h2M111,117.5h2M174,152.5h10M59,128.5h2M234,128.5h3M718,316.5h3M727,316.5h4M365,229.5h2M454,229.5h2M475,234.5h2M835,234.5h2M75,118.5h2M207,137.5h2M57,127.5h2M232,127.5h2M423,217.5h5M840,236.5h9M153,149.5h3M188,149.5h2M298,188.5h2M583,433.5h2M409,222.5h2M440,222.5h3M792,222.5h2M825,222.5h2M293,185.5h2M909,185.5h2M305,191.5h2M456,230.5h2M361,226.5h2M449,226.5h2M786,226.5h2M586,435.5h2M648,435.5h2M595,438.5h6M639,438.5h5M913,182.5h2M472,233.5h3M891,198.5h2M451,227.5h2M85,114.5h3M100,114.5h9M801,215.5h2M416,219.5h3M430,219.5h3M783,228.5h2M445,224.5h2M789,224.5h2M284,184.5h9M443,223.5h2M411,221.5h2M436,221.5h4M163,154.5h8M140,148.5h13M458,231.5h4M419,218.5h4M428,218.5h2M797,218.5h2M819,218.5h2M300,189.5h3M373,240.5h2M203,139.5h2M837,235.5h3M590,437.5h5M644,437.5h2M73,119.5h2M82,115.5h3M612,442.5h4M196,143.5h2M854,239.5h2M868,239.5h2M375,241.5h3M390,241.5h2M857,241.5h2M218,126.5h2M229,126.5h3M806,212.5h5M605,440.5h4M621,440.5h4M721,317.5h6M849,237.5h3M156,150.5h2M186,150.5h2M816,216.5h2M66,122.5h2M199,141.5h2M192,146.5h2M223,124.5h3M405,225.5h2M447,225.5h2M79,116.5h3M311,194.5h2M333,194.5h3M897,194.5h2M601,439.5h4M625,439.5h14M381,243.5h3M386,243.5h2M852,238.5h2M813,214.5h2M161,153.5h2M171,153.5h3M916,180.5h2M138,147.5h2M220,125.5h3M226,125.5h3M71,120.5h2M125,131.5h2M588,436.5h2M646,436.5h2M658,428.5h2M210,135.5h2M122,129.5h2M237,129.5h2M205,138.5h2M804,213.5h2M811,213.5h2M384,244.5h2M650,434.5h2M303,190.5h2M296,187.5h2M581,432.5h2M653,432.5h2M894,196.5h2M201,140.5h2M920,177.5h2M692.5,358v2M705.5,336v2M875.5,231v2M537.5,352v3M509.5,282v2M772.5,256v3M684.5,372v2M887.5,206v3M46.5,112v2M344.5,205v1M771.5,259v3M530.5,331v4M49.5,117v1M669.5,408v3M217.5,127v2M775.5,246v4M42.5,105v2M369.5,233v2M50.5,118v2M709.5,329v2M883.5,217v2M61.5,127v1M667.5,413v3M676.5,390v3M523.5,309v3M39.5,99v2M779.5,235v2M533.5,342v2M688.5,365v1M906.5,188v1M701.5,343v2M541.5,363v3M886.5,209v3M35.5,91v2M573.5,422v2M136.5,144v2M17.5,53v2M7.5,30v2M672.5,400v3M555.5,392v2M681.5,379v2M762.5,277v1M508.5,280v2M558.5,397v2M696.5,350v2M121.5,128v1M551.5,385v2M504.5,273v2M580.5,431v1M512.5,286v2M821.5,219v1M918.5,179v1M664.5,420v2M453.5,228v1M343.5,204v1M505.5,275v2M403.5,227v1M791.5,223v1M24.5,68v2M45.5,110v2M878.5,227v1M407.5,224v1M795.5,220v1M354.5,218v1M6.5,28v2M38.5,97v2M212.5,134v1M246.5,136v1M751.5,290v1M652.5,433v1M532.5,339v3M247.5,137v1M522.5,305v4M540.5,360v3M561.5,402v2M882.5,219v2M268.5,159v1M656.5,430v1M691.5,360v1M16.5,50v3M114.5,119v1M554.5,390v2M526.5,318v3M562.5,404v1M392.5,240v1M395.5,236v1M253.5,143v1M770.5,262v2M120.5,126v2M759.5,280v1M536.5,350v2M254.5,144v1M716.5,318v1M774.5,250v3M511.5,285v1M519.5,297v2M529.5,327v4M501.5,267v2M675.5,393v2M885.5,212v2M687.5,366v2M23.5,66v2M754.5,286v1M260.5,150v1M543.5,368v3M52.5,121v1M372.5,238v2M353.5,216v2M5.5,26v2M680.5,381v2M37.5,95v2M261.5,151v1M53.5,122v1M128.5,133v2M704.5,338v2M739.5,306v1M267.5,158v1M674.5,395v2M357.5,221v2M683.5,374v2M828.5,224v2M557.5,395v2M113.5,118v1M663.5,422v2M550.5,383v2M482.5,240v1M734.5,312v1M31.5,83v2M679.5,383v3M13.5,44v2M778.5,237v2M345.5,206v2M515.5,290v2M747.5,295v2M750.5,291v2M912.5,183v1M346.5,208v1M500.5,265v2M671.5,403v2M893.5,197v1M695.5,352v2M368.5,231v2M542.5,366v2M371.5,236v2M905.5,189v1M742.5,302v1M20.5,59v3M769.5,264v2M127.5,132v1M572.5,420v2M34.5,89v2M758.5,281v2M553.5,389v1M575.5,426v1M670.5,405v3M782.5,229v2M694.5,354v2M521.5,302v3M710.5,327v2M549.5,381v2M686.5,368v2M753.5,287v2M30.5,81v2M12.5,42v2M63.5,125v1M765.5,271v2M198.5,142v1M503.5,271v2M402.5,228v1M241.5,131v1M535.5,347v3M488.5,246v1M518.5,295v2M690.5,361v2M499.5,263v2M706.5,334v2M109.5,115v1M574.5,424v2M682.5,376v3M489.5,247v1M394.5,237v2M8.5,32v3M773.5,253v3M367.5,230v1M698.5,347v2M55.5,125v1M881.5,221v2M761.5,278v1M531.5,335v4M356.5,220v1M777.5,239v4M248.5,138v1M4.5,24v2M560.5,400v2M131.5,138v1M884.5,214v3M33.5,87v2M571.5,418v2M270.5,161v2M552.5,387v2M556.5,394v1M564.5,406v2M271.5,163v1M15.5,48v2M877.5,228v2M274.5,167v2M520.5,299v3M889.5,201v3M776.5,243v3M338.5,198v1M546.5,375v2M513.5,288v1M11.5,39v3M741.5,303v2M673.5,397v3M502.5,269v2M214.5,131v2M256.5,146v1M514.5,289v1M662.5,424v2M25.5,70v3M370.5,235v1M349.5,211v2M748.5,294v1M54.5,123v2M22.5,64v2M736.5,310v1M678.5,386v2M496.5,257v2M355.5,219v1M585.5,434v1M397.5,234v1M191.5,147v1M295.5,186v1M130.5,136v2M477.5,235v1M36.5,93v2M764.5,273v2M827.5,223v1M527.5,321v3M559.5,399v1M337.5,196v2M570.5,416v2M548.5,379v2M269.5,160v1M277.5,172v2M115.5,120v1M756.5,284v1M563.5,405v1M713.5,321v2M744.5,299v2M907.5,187v1M14.5,46v2M768.5,266v2M363.5,227v1M517.5,293v2M255.5,145v1M545.5,373v2M498.5,261v2M47.5,114v2M21.5,62v2M400.5,230v1M348.5,210v1M830.5,227v2M495.5,255v2M262.5,152v1M32.5,85v2M693.5,356v2M733.5,313v1M660.5,427v1M888.5,204v2M922.5,176v1M856.5,240v1M867.5,240v1M336.5,195v1M18.5,55v2M273.5,165v2M577.5,428v1M359.5,224v1M483.5,241v1M871.5,237v1M29.5,79v2M880.5,223v2M689.5,363v2M484.5,242v1M799.5,217v1M516.5,292v1M544.5,371v2M911.5,184v1M534.5,344v3M803.5,214v1M43.5,107v2M243.5,133v1M490.5,248v1M65.5,123v1M815.5,215v1M129.5,135v1M685.5,370v2M818.5,217v1M491.5,249v1M788.5,225v1M829.5,226v1M358.5,223v1M494.5,253v2M712.5,323v2M133.5,140v2M569.5,414v2M767.5,268v2M404.5,226v1M280.5,177v2M833.5,231v2M874.5,233v1M209.5,136v1M668.5,411v2M565.5,408v1M547.5,377v2M213.5,133v1M118.5,124v1M566.5,409v1M28.5,77v2M731.5,315v1M708.5,331v1M347.5,209v1M763.5,275v2M697.5,349v1M110.5,116v1M10.5,37v2M497.5,259v2M890.5,199v2M56.5,126v1M576.5,427v1M283.5,182v2M408.5,223v1M132.5,139v1M276.5,170v2M216.5,129v1M752.5,289v1M755.5,285v1M399.5,231v2M279.5,175v2M250.5,140v1M525.5,315v3M339.5,199v1M272.5,164v1M700.5,345v1M703.5,340v2M738.5,307v2M242.5,132v1M364.5,228v1M350.5,213v1M249.5,139v1M478.5,236v1M832.5,230v1M866.5,241v1M117.5,122v2M715.5,319v1M282.5,180v2M539.5,358v2M479.5,237v1M568.5,412v2M275.5,169v1M27.5,75v2M257.5,147v1M124.5,130v1M711.5,325v2M655.5,431v1M735.5,311v1M486.5,244v1M824.5,221v1M64.5,124v1M9.5,35v2M528.5,324v3M19.5,57v2M264.5,154v1M873.5,234v2M493.5,251v2M831.5,229v1M707.5,332v2M870.5,238v1M278.5,174v1M360.5,225v1M116.5,121v1M281.5,179v1M666.5,416v2M746.5,297v1M135.5,143v1M794.5,221v1M26.5,73v2M904.5,190v1M485.5,243v1M48.5,116v1M195.5,144v1M781.5,231v2M41.5,103v2M757.5,283v1M44.5,109v1M766.5,270v1M263.5,153v1M538.5,355v3M492.5,250v1M749.5,293v1M567.5,410v2M215.5,130v1M134.5,142v1M398.5,233v1M578.5,429v1M341.5,201v2M579.5,430v1M699.5,346v1M896.5,195v1M506.5,277v2M524.5,312v3M342.5,203v1M507.5,279v1M244.5,134v1M245.5,135v1M40.5,101v2M665.5,418v2M62.5,126v1M352.5,215v1M876.5,230v1M834.5,233v1M657.5,429v1M737.5,309v1M252.5,142v1M119.5,125v1M661.5,426v1M915.5,181v1M481.5,239v1M677.5,388v2M340.5,200v1M919.5,178v1M393.5,239v1M760.5,279v1M51.5,120v1M717.5,317v1M908.5,186v1M160.5,152v1M879.5,225v2M796.5,219v1M266.5,156v2M740.5,305v1M800.5,216v1M401.5,229v1M251.5,141v1M780.5,233v2M702.5,342v1M137.5,146v1M480.5,238v1M396.5,235v1M190.5,148v1M510.5,284v1M194.5,145v1M258.5,148v1M872.5,236v1M351.5,214v1M732.5,314v1M259.5,149v1M487.5,245v1M714.5,320v1M745.5,298v1M265.5,155v1M743.5,301v1M785.5,227v1M903.5,191v1"/>
<rect x="2" y="527" width="3" height="20" fill="#c0c0c0"/>
<rect x="6" y="527" width="3" height="24" fill="#c0c0c0"/>
<rect x="10" y="527" width="3" height="27" fill="#c0c0c0"/>
<rect x="14" y="527" width="3" height="29" fill="#c0c0c0"/>
<rect x="18" y="527" width="3" height="30" fill="#c0c0c0"/>
<rect x="22" y="527" width="3" height="31" fill="#c0c0c0"/>
<rect x="26" y="527" width="3" height="33" fill="#c0c0c0"/>
<rect x="30" y="527" width="3" height="33" fill="#c0c0c0"/>
<rect x="34" y="527" width="3" height="31" fill="#c0c0c0"/>
<rect x="38" y="527" width="3" height="31" fill="#c0c0c0"/>
<rect x="42" y="527" width="3" height="31" fill="#c0c0c0"/>
<rect x="46" y="527" width="3" height="30" fill="#c0c0c0"/>
<rect x="50" y="527" width="3" height="29" fill="#c0c0c0"/>
<rect x="54" y="527" width="3" height="29" fill="#c0c0c0"/>
<rect x="58" y="527" width="3" height="27" fill="#c0c0c0"/>
<rect x="62" y="527" width="3" height="22" fill="#c0c0c0"/>
<rect x="66" y="527" width="3" height="17" fill="#c0c0c0"/>
<rect x="70" y="527" width="3" height="15" fill="#c0c0c0"/>
<rect x="74" y="527" width="3" height="13" fill="#c0c0c0"/>
<rect x="78" y="527" width="3" height="11" fill="#c0c0c0"/>
<rect x="82" y="527" width="3" height="10" fill="#c0c0c0"/>
<rect x="86" y="527" width="3" height="10" fill="#c0c0c0"/>
<rect x="90" y="527" width="3" height="12" fill="#c0c0c0"/>
<rect x="94" y="527" width="3" height="14" fill="#c0c0c0"/>
<rect x="98" y="527" width="3" height="15" fill="#c0c0c0"/>
<rect x="102" y="527" width="3" height="15" fill="#c0c0c0"/>
<rect x="106" y="527" width="3" height="16" fill="#c0c0c0"/>
<rect x="110" y="527" width="3" height="17" fill="#c0c0c0"/>
<rect x="114" y="527" width="3" height="17" fill="#c0c0c0"/>
<rect x="118" y="527" width="3" height="17" fill="#c0c0c0"/>
<rect x="122" y="527" width="3" height="17" fill="#c0c0c0"/>
<rect x="126" y="527" width="3" height="16" fill="#c0c0c0"/>
<rect x="130" y="527" width="3" height="14" fill="#c0c0c0"/>
<rect x="134" y="527" width="3" height="13" fill="#c0c0c0"/>
<rect x="138" y="527" width="3" height="13" fill="#c0c0c0"/>
<rect x="142" y="527" width="3" height="12" fill="#c0c0c0"/>
<rect x="146" y="527" width="3" height="12" fill="#c0c0c0"/>
<rect x="150" y="527" width="3" height="11" fill="#c0c0c0"/>
<rect x="154" y="527" width="3" height="12" fill="#c0c0c0"/>
<rect x="158" y="527" width="3" height="13" fill="#c0c0c0"/>
<rect x="162" y="527" width="3" height="14" fill="#c0c0c0"/>
<rect x="166" y="527" width="3" height="13" fill="#c0c0c0"/>
<rect x="170" y="527" width="3" height="12" fill="#c0c0c0"/>
<rect x="174" y="527" width="3" height="10" fill="#c0c0c0"/>
<rect x="178" y="527" width="3" height="9" fill="#c0c0c0"/>
<rect x="182" y="527" width="3" height="7" fill="#c0c0c0"/>
<rect x="186" y="527" width="3" height="4" fill="#c0c0c0"/>
<rect x="190" y="527" width="3" height="3" fill="#c0c0c0"/>
<rect x="194" y="527" width="3" height="1" fill="#c0c0c0"/>
<rect x="198" y="525" width="3" height="2" fill="#c0c0c0"/>
<rect x="202" y="523" width="3" height="4" fill="#c0c0c0"/>
<rect x="206" y="523" width="3" height="4" fill="#c0c0c0"/>
<rect x="210" y="521" width="3" height="6" fill="#c0c0c0"/>
<rect x="214" y="522" width="3" height="5" fill="#c0c0c0"/>
<rect x="218" y="523" width="3" height="4" fill="#c0c0c0"/>
<rect x="222" y="526" width="3" height="1" fill="#c0c0c0"/>
<rect x="230" y="527" width="3" height="2" fill="#c0c0c0"/>
<rect x="234" y="527" width="3" height="4" fill="#c0c0c0"/>
<rect x="238" y="527" width="3" height="5" fill="#c0c0c0"/>
<rect x="242" y="527" width="3" height="6" fill="#c0c0c0"/>
<rect x="246" y="527" width="3" height="8" fill="#c0c0c0"/>
<rect x="250" y="527" width="3" height="8" fill="#c0c0c0"/>
<rect x="254" y="527" width="3" height="6" fill="#c0c0c0"/>
<rect x="258" y="527" width="3" height="7" fill="#c0c0c0"/>
<rect x="262" y="527" width="3" height="9" fill="#c0c0c0"/>
<rect x="266" y="527" width="3" height="11" fill="#c0c0c0"/>
<rect x="270" y="527" width="3" height="12" fill="#c0c0c0"/>
<rect x="274" y="527" width="3" height="13" fill="#c0c0c0"/>
<rect x="278" y="527" width="3" height="15" fill="#c0c0c0"/>
<rect x="282" y="527" width="3" height="18" fill="#c0c0c0"/>
<rect x="286" y="527" width="3" height="16" fill="#c0c0c0"/>
<rect x="290" y="527" width="3" height="12" fill="#c0c0c0"/>
<rect x="294" y="527" width="3" height="11" fill="#c0c0c0"/>
<rect x="298" y="527" width="3" height="10" fill="#c0c0c0"/>
<rect x="302" y="527" width="3" height="10" fill="#c0c0c0"/>
<rect x="306" y="527" width="3" height="9" fill="#c0c0c0"/>
<rect x="310" y="527" width="3" height="8" fill="#c0c0c0"/>
<rect x="314" y="527" width="3" height="7" fill="#c0c0c0"/>
<rect x="318" y="527" width="3" height="6" fill="#c0c0c0"/>
<rect x="322" y="527" width="3" height="5" fill="#c0c0c0"/>
<rect x="326" y="527" width="3" height="6" fill="#c0c0c0"/>
<rect x="330" y="527" width="3" height="8" fill="#c0c0c0"/>
<rect x="334" y="527" width="3" height="11" fill="#c0c0c0"/>
<rect x="338" y="527" width="3" height="15" fill="#c0c0c0"/>
<rect x="342" y="527" width="3" height="16" fill="#c0c0c0"/>
<rect x="346" y="527" width="3" height="19" fill="#c0c0c0"/>
<rect x="350" y="527" width="3" height="20" fill="#c0c0c0"/>
<rect x="354" y="527" width="3" height="21" fill="#c0c0c0"/>
<rect x="358" y="527" width="3" height="20" fill="#c0c0c0"/>
<rect x="362" y="527" width="3" height="19" fill="#c0c0c0"/>
<rect x="366" y="527" width="3" height="17" fill="#c0c0c0"/>
<rect x="370" y="527" width="3" height="16" fill="#c0c0c0"/>
<rect x="374" y="527" width="3" height="13" fill="#c0c0c0"/>
<rect x="378" y="527" width="3" height="10" fill="#c0c0c0"/>
<rect x="382" y="527" width="3" height="8" fill="#c0c0c0"/>
<rect x="386" y="527" width="3" height="7" fill="#c0c0c0"/>
<rect x="390" y="527" width="3" height="5" fill="#c0c0c0"/>
<rect x="394" y="527" width="3" height="3" fill="#c0c0c0"/>
<rect x="398" y="527" width="3" height="3" fill="#c0c0c0"/>
<rect x="402" y="527" width="3" height="3" fill="#c0c0c0"/>
<rect x="406" y="527" width="3" height="3" fill="#c0c0c0"/>
<rect x="410" y="527" width="3" height="3" fill="#c0c0c0"/>
<rect x="414" y="527" width="3" height="5" fill="#c0c0c0"/>
<rect x="418" y="527" width="3" height="4" fill="#c0c0c0"/>
<rect x="422" y="527" width="3" height="3" fill="#c0c0c0"/>
<rect x="426" y="527" width="3" height="2" fill="#c0c0c0"/>
<rect x="430" y="527" width="3" height="2" fill="#c0c0c0"/>
<rect x="434" y="527" width="3" height="3" fill="#c0c0c0"/>
<rect x="438" y="527" width="3" height="3" fill="#c0c0c0"/>
<rect x="442" y="527" width="3" height="4" fill="#c0c0c0"/>
<rect x="446" y="527" width="3" height="5" fill="#c0c0c0"/>
<rect x="450" y="527" width="3" height="5" fill="#c0c0c0"/>
<rect x="454" y="527" width="3" height="6" fill="#c0c0c0"/>
<rect x="458" y="527" width="3" height="6" fill="#c0c0c0"/>
<rect x="462" y="527" width="3" height="6" fill="#c0c0c0"/>
<rect x="466" y="527" width="3" height="5" fill="#c0c0c0"/>
<rect x="470" y="527" width="3" height="6" fill="#c0c0c0"/>
<rect x="474" y="527" width="3" height="5" fill="#c0c0c0"/>
<rect x="478" y="527" width="3" height="7" fill="#c0c0c0"/>
<rect x="482" y="527" width="3" height="8" fill="#c0c0c0"/>
<rect x="486" y="527" width="3" height="10" fill="#c0c0c0"/>
<rect x="490" y="527" width="3" height="12" fill="#c0c0c0"/>
<rect x="494" y="527" width="3" height="15" fill="#c0c0c0"/>
<rect x="498" y="527" width="3" height="19" fill="#c0c0c0"/>
<rect x="502" y="527" width="3" height="21" fill="#c0c0c0"/>
<rect x="506" y="527" width="3" height="24" fill="#c0c0c0"/>
<rect x="510" y="527" width="3" height="25" fill="#c0c0c0"/>
<rect x="514" y="527" width="3" height="25" fill="#c0c0c0"/>
<rect x="518" y="527" width="3" height="26" fill="#c0c0c0"/>
<rect x="522" y="527" width="3" height="29" fill="#c0c0c0"/>
<rect x="526" y="527" width="3" height="32" fill="#c0c0c0"/>
<rect x="530" y="527" width="3" height="33" fill="#c0c0c0"/>
<rect x="534" y="527" width="3" height="37" fill="#c0c0c0"/>
<rect x="538" y="527" width="3" height="38" fill="#c0c0c0"/>
<rect x="542" y="527" width="3" height="39" fill="#c0c0c0"/>
<rect x="546" y="527" width="3" height="37" fill="#c0c0c0"/>
<rect x="550" y="527" width="3" height="37" fill="#c0c0c0"/>
<rect x="554" y="527" width="3" height="35" fill="#c0c0c0"/>
<rect x="558" y="527" width="3" height="35" fill="#c0c0c0"/>
<rect x="562" y="527" width="3" height="35" fill="#c0c0c0"/>
<rect x="566" y="527" width="3" height="35" fill="#c0c0c0"/>
<rect x="570" y="527" width="3" height="35" fill="#c0c0c0"/>
<rect x="574" y="527" width="3" height="33" fill="#c0c0c0"/>
<rect x="578" y="527" width="3" height="33" fill="#c0c0c0"/>
<rect x="582" y="527" width="3" height="31" fill="#c0c0c0"/>
<rect x="586" y="527" width="3" height="29" fill="#c0c0c0"/>
<rect x="590" y="527" width="3" height="27" fill="#c0c0c0"/>
<rect x="594" y="527" width="3" height="25" fill="#c0c0c0"/>
<rect x="598" y="527" width="3" height="24" fill="#c0c0c0"/>
<rect x="602" y="527" width="3" height="23" fill="#c0c0c0"/>
<rect x="606" y="527" width="3" height="22" fill="#c0c0c0"/>
<rect x="610" y="527" width="3" height="21" fill="#c0c0c0"/>
<rect x="614" y="527" width="3" height="20" fill="#c0c0c0"/>
<rect x="618" y="527" width="3" height="18" fill="#c0c0c0"/>
<rect x="622" y="527" width="3" height="17" fill="#c0c0c0"/>
<rect x="626" y="527" width="3" height="15" fill="#c0c0c0"/>
<rect x="630" y="527" width="3" height="14" fill="#c0c0c0"/>
<rect x="634" y="527" width="3" height="13" fill="#c0c0c0"/>
<rect x="638" y="527" width="3" height="11" fill="#c0c0c0"/>
<rect x="642" y="527" width="3" height="10" fill="#c0c0c0"/>
<rect x="646" y="527" width="3" height="8" fill="#c0c0c0"/>
<rect x="650" y="527" width="3" height="6" fill="#c0c0c0"/>
<rect x="654" y="527" width="3" height="5" fill="#c0c0c0"/>
<rect x="658" y="527" width="3" height="2" fill="#c0c0c0"/>
<rect x="662" y="526" width="3" height="1" fill="#c0c0c0"/>
<rect x="666" y="520" width="3" height="7" fill="#c0c0c0"/>
<rect x="670" y="513" width="3" height="14" fill="#c0c0c0"/>
<rect x="674" y="508" width="3" height="19" fill="#c0c0c0"/>
<rect x="678" y="506" width="3" height="21" fill="#c0c0c0"/>
<rect x="682" y="504" width="3" height="23" fill="#c0c0c0"/>
<rect x="686" y="506" width="3" height="21" fill="#c0c0c0"/>
<rect x="690" y="506" width="3" height="21" fill="#c0c0c0"/>
<rect x="694" y="508" width="3" height="19" fill="#c0c0c0"/>
<rect x="698" y="508" width="3" height="19" fill="#c0c0c0"/>
<rect x="702" y="508" width="3" height="19" fill="#c0c0c0"/>
<rect x="706" y="508" width="3" height="19" fill="#c0c0c0"/>
<rect x="710" y="507" width="3" height="20" fill="#c0c0c0"/>
<rect x="714" y="506" width="3" height="21" fill="#c0c0c0"/>
<rect x="718" y="508" width="3" height="19" fill="#c0c0c0"/>
<rect x="722" y="509" width="3" height="18" fill="#c0c0c0"/>
<rect x="726" y="510" width="3" height="17" fill="#c0c0c0"/>
<rect x="730" y="509" width="3" height="18" fill="#c0c0c0"/>
<rect x="734" y="506" width="3" height="21" fill="#c0c0c0"/>
<rect x="738" y="502" width="3" height="25" fill="#c0c0c0"/>
<rect x="742" y="502" width="3" height="25" fill="#c0c0c0"/>
<rect x="746" y="502" width="3" height="25" fill="#c0c0c0"/>
<rect x="750" y="503" width="3" height="24" fill="#c0c0c0"/>
<rect x="754" y="502" width="3" height="25" fill="#c0c0c0"/>
<rect x="758" y="502" width="3" height="25" fill="#c0c0c0"/>
<rect x="762" y="500" width="3" height="27" fill="#c0c0c0"/>
<rect x="766" y="500" width="3" height="27" fill="#c0c0c0"/>
<rect x="770" y="498" width="3" height="29" fill="#c0c0c0"/>
<rect x="774" y="493" width="3" height="34" fill="#c0c0c0"/>
<rect x="778" y="490" width="3" height="37" fill="#c0c0c0"/>
<rect x="782" y="494" width="3" height="33" fill="#c0c0c0"/>
<rect x="786" y="496" width="3" height="31" fill="#c0c0c0"/>
<rect x="790" y="498" width="3" height="29" fill="#c0c0c0"/>
<rect x="794" y="500" width="3" height="27" fill="#c0c0c0"/>
<rect x="798" y="503" width="3" height="24" fill="#c0c0c0"/>
<rect x="802" y="504" width="3" height="23" fill="#c0c0c0"/>
<rect x="806" y="506" width="3" height="21" fill="#c0c0c0"/>
<rect x="810" y="511" width="3" height="16" fill="#c0c0c0"/>
<rect x="814" y="515" width="3" height="12" fill="#c0c0c0"/>
<rect x="818" y="517" width="3" height="10" fill="#c0c0c0"/>
<rect x="822" y="518" width="3" height="9" fill="#c0c0c0"/>
<rect x="826" y="518" width="3" height="9" fill="#c0c0c0"/>
<rect x="830" y="518" width="3" height="9" fill="#c0c0c0"/>
<rect x="834" y="520" width="3" height="7" fill="#c0c0c0"/>
<rect x="838" y="519" width="3" height="8" fill="#c0c0c0"/>
<rect x="842" y="519" width="3" height="8" fill="#c0c0c0"/>
<rect x="846" y="518" width="3" height="9" fill="#c0c0c0"/>
<rect x="850" y="520" width="3" height="7" fill="#c0c0c0"/>
<rect x="854" y="521" width="3" height="6" fill="#c0c0c0"/>
<rect x="858" y="522" width="3" height="5" fill="#c0c0c0"/>
<rect x="862" y="522" width="3" height="5" fill="#c0c0c0"/>
<rect x="866" y="523" width="3" height="4" fill="#c0c0c0"/>
<rect x="870" y="522" width="3" height="5" fill="#c0c0c0"/>
<rect x="874" y="520" width="3" height="7" fill="#c0c0c0"/>
<rect x="878" y="518" width="3" height="9" fill="#c0c0c0"/>
<rect x="882" y="512" width="3" height="15" fill="#c0c0c0"/>
<rect x="886" y="506" width="3" height="21" fill="#c0c0c0"/>
<rect x="890" y="502" width="3" height="25" fill="#c0c0c0"/>
<rect x="894" y="504" width="3" height="23" fill="#c0c0c0"/>
<rect x="898" y="507" width="3" height="20" fill="#c0c0c0"/>
<rect x="902" y="509" width="3" height="18" fill="#c0c0c0"/>
<rect x="906" y="510" width="3" height="17" fill="#c0c0c0"/>
<rect x="910" y="513" width="3" height="14" fill="#c0c0c0"/>
<rect x="914" y="515" width="3" height="12" fill="#c0c0c0"/>
<rect x="918" y="517" width="3" height="10" fill="#c0c0c0"/>
<rect x="922" y="518" width="3" height="9" fill="#c0c0c0"/>
<path fill="none" stroke="#ff0000" stroke-width="1" d="M40,557.5h22M538,557.5h3M596,557.5h4M201,530.5h2M252,530.5h4M414,530.5h8M444,530.5h20M2,541.5h2M89,541.5h3M118,541.5h5M131,541.5h17M358,541.5h3M383,541.5h2M507,541.5h2M644,541.5h3M14,546.5h2M81,546.5h2M517,546.5h2M629,546.5h3M779,498.5h8M807,498.5h3M96,539.5h19M152,539.5h17M289,539.5h24M353,539.5h2M388,539.5h2M503,539.5h2M649,539.5h3M175,537.5h7M280,537.5h6M317,537.5h4M347,537.5h3M393,537.5h3M499,537.5h2M654,537.5h3M193,533.5h3M264,533.5h4M404,533.5h2M484,533.5h7M663,533.5h2M681,519.5h2M851,519.5h12M883,519.5h2M196,532.5h2M260,532.5h4M406,532.5h3M478,532.5h6M665,532.5h2M16,547.5h3M79,547.5h2M519,547.5h2M626,547.5h3M712,506.5h7M740,506.5h7M821,506.5h2M25,551.5h2M526,551.5h2M613,551.5h3M29,553.5h2M68,553.5h2M530,553.5h2M608,553.5h2M216,524.5h23M675,524.5h2M688,514.5h2M836,514.5h2M894,514.5h3M695,510.5h2M828,510.5h2M905,510.5h3M921,510.5h2M182,536.5h6M275,536.5h5M321,536.5h3M345,536.5h2M396,536.5h2M497,536.5h2M657,536.5h2M562,563.5h11M697,509.5h2M826,509.5h2M908,509.5h13M188,535.5h2M271,535.5h4M324,535.5h4M339,535.5h6M398,535.5h3M495,535.5h2M659,535.5h2M212,525.5h4M239,525.5h4M548,560.5h6M582,560.5h6M9,544.5h2M365,544.5h14M513,544.5h2M635,544.5h4M766,501.5h3M813,501.5h2M92,540.5h4M115,540.5h3M148,540.5h4M355,540.5h3M385,540.5h3M505,540.5h2M647,540.5h2M865,521.5h15M203,529.5h2M249,529.5h3M422,529.5h22M669,529.5h2M169,538.5h6M286,538.5h3M313,538.5h4M350,538.5h3M390,538.5h3M501,538.5h2M652,538.5h2M11,545.5h3M515,545.5h2M632,545.5h3M21,549.5h2M75,549.5h2M522,549.5h2M620,549.5h3M198,531.5h3M256,531.5h4M409,531.5h5M464,531.5h14M35,556.5h5M62,556.5h3M536,556.5h2M600,556.5h3M691,512.5h2M832,512.5h2M900,512.5h2M747,505.5h6M819,505.5h2M699,508.5h2M725,508.5h7M824,508.5h2M773,499.5h6M810,499.5h2M6,543.5h3M85,543.5h2M363,543.5h2M379,543.5h2M511,543.5h2M639,543.5h3M753,504.5h5M190,534.5h3M268,534.5h3M328,534.5h11M401,534.5h3M491,534.5h4M661,534.5h2M207,527.5h2M245,527.5h2M843,517.5h3M887,517.5h2M544,559.5h4M588,559.5h5M554,561.5h5M577,561.5h5M787,497.5h6M800,497.5h7M205,528.5h2M247,528.5h2M793,496.5h7M685,516.5h2M841,516.5h2M889,516.5h3M4,542.5h2M87,542.5h2M123,542.5h8M361,542.5h2M381,542.5h2M509,542.5h2M642,542.5h2M27,552.5h2M70,552.5h2M528,552.5h2M610,552.5h3M693,511.5h2M830,511.5h2M902,511.5h3M838,515.5h3M892,515.5h2M23,550.5h2M73,550.5h2M524,550.5h2M616,550.5h4M701,507.5h11M719,507.5h6M732,507.5h8M33,555.5h2M65,555.5h2M534,555.5h2M603,555.5h2M846,518.5h5M885,518.5h2M834,513.5h2M897,513.5h3M559,562.5h3M573,562.5h4M541,558.5h3M593,558.5h3M31,554.5h2M532,554.5h2M605,554.5h3M758,503.5h4M816,503.5h2M769,500.5h4M863,520.5h2M880,520.5h3M209,526.5h3M243,526.5h2M19,548.5h2M77,548.5h2M623,548.5h3M762,502.5h4M690.5,513v1M84.5,544v1M72.5,551v1M680.5,520v1M521.5,548v1M83.5,545v1M674.5,525v1M673.5,526v1M678.5,522v1M679.5,521v1M668.5,530v1M683.5,518v1M684.5,517v1M823.5,507v1M667.5,531v1M67.5,554v1M672.5,527v1M687.5,515v1M671.5,528v1M815.5,502v1M677.5,523v1M818.5,504v1M812.5,500v1"/>
<path fill="none" stroke="#1e90ff" stroke-width="1" d="M55,624.5h2M92,624.5h2M101,624.5h6M120,624.5h2M138,624.5h2M159,624.5h2M265,624.5h8M146,618.5h2M154,618.5h2M296,618.5h2M368,618.5h2M431,618.5h2M449,618.5h2M461,618.5h2M619,618.5h2M635,618.5h9M812,618.5h2M278,628.5h2M335,628.5h2M340,628.5h2M344,628.5h2M353,628.5h2M583,628.5h2M190,613.5h2M386,613.5h6M897,613.5h2M901,613.5h4M907,613.5h2M49,630.5h2M281,630.5h3M73,617.5h7M143,617.5h3M148,617.5h2M152,617.5h2M167,617.5h2M177,617.5h2M322,617.5h6M370,617.5h6M405,617.5h2M408,617.5h2M429,617.5h2M437,617.5h2M441,617.5h3M814,617.5h3M532,639.5h2M537,639.5h3M765,598.5h4M31,629.5h9M337,629.5h3M346,629.5h2M493,629.5h2M581,629.5h2M585,629.5h3M71,616.5h2M80,616.5h2M129,616.5h2M150,616.5h2M169,616.5h4M221,616.5h3M255,616.5h5M320,616.5h2M398,616.5h7M410,616.5h2M439,616.5h2M817,616.5h4M238,620.5h6M305,620.5h3M365,620.5h2M457,620.5h3M474,620.5h7M198,609.5h6M693,609.5h2M697,609.5h4M786,609.5h3M793,609.5h3M82,615.5h2M173,615.5h3M215,615.5h6M313,615.5h7M821,615.5h3M854,615.5h13M911,615.5h2M917,615.5h6M509,635.5h3M558,635.5h3M673,596.5h3M737,599.5h2M762,599.5h3M682,603.5h2M710,603.5h6M689,608.5h2M701,608.5h3M789,608.5h4M872,608.5h2M94,625.5h2M99,625.5h2M112,625.5h2M115,625.5h2M161,625.5h3M263,625.5h2M273,625.5h2M593,625.5h2M597,625.5h9M228,621.5h2M235,621.5h3M359,621.5h2M455,621.5h2M471,621.5h3M481,621.5h2M624,621.5h2M186,611.5h2M194,611.5h2M209,611.5h2M662,611.5h2M721,611.5h2M725,611.5h3M797,611.5h2M827,611.5h5M839,611.5h6M311,614.5h2M384,614.5h2M852,614.5h2M899,614.5h2M909,614.5h2M913,614.5h4M534,640.5h3M733,600.5h4M760,600.5h2M298,619.5h7M417,619.5h2M433,619.5h3M445,619.5h2M621,619.5h2M89,622.5h2M230,622.5h5M361,622.5h3M626,622.5h3M342,627.5h2M349,627.5h2M487,627.5h5M14,632.5h2M20,632.5h3M548,632.5h2M573,632.5h2M4,634.5h2M24,634.5h2M499,634.5h10M556,634.5h2M570,634.5h2M184,612.5h2M188,612.5h2M192,612.5h2M723,612.5h2M849,612.5h2M895,612.5h2M905,612.5h2M16,633.5h4M550,633.5h6M568,633.5h2M57,623.5h3M629,623.5h2M41,631.5h2M575,631.5h5M671,595.5h2M884,595.5h2M889,595.5h2M705,606.5h2M745,606.5h2M196,610.5h2M647,610.5h5M695,610.5h2M783,610.5h3M801,610.5h2M804,610.5h2M845,610.5h3M731,601.5h2M758,601.5h2M96,626.5h3M108,626.5h2M117,626.5h2M275,626.5h2M595,626.5h2M606,626.5h2M708,604.5h2M878,604.5h2M7,636.5h2M561,636.5h3M876,605.5h2M680,602.5h2M756,602.5h2M747,607.5h5M9,637.5h2M524,637.5h2M542,637.5h2M526,638.5h6M540,638.5h2M769,597.5h3M777,594.5h2M886,594.5h3M62.5,617v2M807.5,612v2M837.5,613v2M464.5,616v1M12.5,634v2M880.5,602v2M107.5,625v1M88.5,621v1M244.5,621v1M495.5,630v1M739.5,600v1M142.5,618v2M206.5,612v1M647.5,611v1M867.5,614v1M164.5,623v2M156.5,619v2M616.5,623v2M207.5,613v1M514.5,629v2M452.5,618v1M157.5,621v1M891.5,597v4M126.5,615v2M252.5,620v1M685.5,606v2M567.5,632v1M308.5,618v2M894.5,609v3M453.5,619v1M590.5,624v2M666.5,601v3M111.5,626v1M730.5,603v2M615.5,625v2M753.5,605v1M547.5,631v1M205.5,611v1M358.5,623v2M665.5,604v4M874.5,607v1M654.5,613v1M780.5,597v4M772.5,596v1M328.5,618v2M26.5,635v1M364.5,621v1M61.5,619v2M776.5,593v1M176.5,616v1M27.5,636v1M293.5,615v1M608.5,627v1M692.5,608v1M684.5,604v2M893.5,605v4M377.5,614v1M422.5,612v2M516.5,629v1M810.5,617v2M65.5,613v1M592.5,624v1M285.5,623v3M517.5,630v1M646.5,612v2M623.5,620v1M227.5,620v1M783.5,609v1M783.5,611v1M250.5,622v1M612.5,629v1M125.5,617v2M262.5,622v2M284.5,626v4M523.5,636v1M45.5,630v1M3.5,633v1M729.5,605v3M392.5,612v1M436.5,618v1M141.5,620v2M824.5,614v1M707.5,605v1M782.5,605v4M448.5,619v1M836.5,615v1M806.5,611v1M809.5,615v2M661.5,609v2M246.5,624v1M247.5,625v1M395.5,611v2M425.5,613v1M741.5,602v1M292.5,614v1M158.5,622v2M881.5,600v2M421.5,614v2M136.5,622v1M64.5,614v2M288.5,616v1M463.5,617v1M851.5,613v1M619.5,617v1M546.5,632v2M383.5,615v1M656.5,612v2M68.5,611v2M352.5,627v1M740.5,601v1M688.5,609v1M60.5,621v2M892.5,601v4M261.5,620v2M580.5,630v1M181.5,615v2M330.5,621v2M310.5,615v2M645.5,614v2M40.5,630v1M755.5,603v1M124.5,619v2M470.5,618v2M283.5,631v1M454.5,620v1M808.5,614v1M245.5,622v2M47.5,628v1M496.5,631v1M416.5,620v1M728.5,608v2M660.5,608v1M48.5,629v1M519.5,632v1M260.5,618v2M869.5,611v1M394.5,610v1M774.5,593v1M618.5,619v2M211.5,610v1M286.5,619v4M781.5,601v4M632.5,621v1M329.5,620v1M212.5,611v1M664.5,608v3M351.5,626v1M413.5,618v2M668.5,598v1M811.5,619v1M614.5,627v1M469.5,616v2M249.5,623v1M659.5,607v1M564.5,635v1M492.5,628v1M85.5,617v2M420.5,616v2M518.5,631v1M86.5,619v1M287.5,617v2M119.5,625v1M465.5,615v1M644.5,616v2M655.5,614v1M397.5,614v2M131.5,617v1M826.5,612v1M123.5,621v2M427.5,615v1M54.5,625v2M294.5,616v1M609.5,628v1M545.5,634v1M412.5,617v1M67.5,610v1M70.5,614v2M513.5,631v2M290.5,614v1M263.5,624v1M127.5,614v1M180.5,617v1M23.5,633v1M883.5,596v2M663.5,612v1M833.5,613v2M426.5,614v1M799.5,612v1M716.5,604v2M331.5,623v1M890.5,596v1M214.5,614v1M658.5,608v2M803.5,609v1M407.5,618v1M30.5,630v2M332.5,624v1M11.5,636v1M137.5,623v1M868.5,612v2M357.5,625v2M871.5,609v1M483.5,622v1M617.5,621v2M727.5,610v1M484.5,623v1M468.5,614v2M183.5,613v1M259.5,617v1M396.5,613v1M498.5,633v1M678.5,600v1M742.5,603v1M670.5,596v1M589.5,626v1M566.5,633v1M754.5,604v1M213.5,612v2M719.5,609v1M69.5,613v1M875.5,606v1M773.5,594v2M415.5,621v1M471.5,620v1M84.5,616v1M53.5,627v2M224.5,617v1M704.5,607v1M497.5,632v1M634.5,619v1M677.5,598v2M140.5,622v2M225.5,618v1M832.5,612v1M520.5,633v1M376.5,615v2M110.5,627v1M91.5,623v1M251.5,621v1M848.5,611v1M167.5,618v1M512.5,633v2M114.5,624v1M779.5,595v2M414.5,620v1M882.5,598v2M611.5,630v1M46.5,629v1M467.5,613v1M486.5,626v1M289.5,615v1M657.5,610v2M460.5,619v1M825.5,613v1M122.5,623v1M44.5,631v1M87.5,620v1M356.5,627v2M254.5,617v1M631.5,622v1M132.5,618v1M718.5,607v2M277.5,627v1M333.5,625v2M280.5,629v1M428.5,616v1M133.5,619v1M752.5,606v1M334.5,627v1M295.5,617v1M610.5,629v1M52.5,629v2M485.5,624v2M588.5,627v2M139.5,625v1M348.5,628v1M182.5,614v1M676.5,597v1M29.5,632v2M166.5,619v2M367.5,619v1M565.5,634v1M379.5,611v1M744.5,605v1M717.5,606v1M870.5,610v1M653.5,612v1M686.5,608v2M380.5,612v1M447.5,620v1M687.5,610v1M208.5,612v1M6.5,635v1M691.5,607v1M253.5,618v2M669.5,597v1M128.5,615v1M667.5,599v2M204.5,610v1M834.5,615v1M679.5,601v1M743.5,604v1M444.5,618v1M63.5,616v1M572.5,633v1M835.5,616v1M838.5,612v1M775.5,592v1M451.5,617v1M2.5,632v1M466.5,614v1M515.5,628v1M633.5,620v1M28.5,634v2M165.5,621v2M591.5,623v1M378.5,612v2M544.5,635v2M796.5,610v1M66.5,611v2M652.5,611v1M423.5,611v1M13.5,633v1M731.5,602v1M613.5,628v1M424.5,612v1M248.5,624v1M291.5,613v1M720.5,610v1M143.5,616v1M419.5,618v1M135.5,621v1M359.5,622v1M43.5,632v1M800.5,611v1M393.5,611v1M309.5,617v1M226.5,619v1M521.5,634v1M355.5,629v1M522.5,635v1M51.5,631v1M381.5,613v1M134.5,620v1M382.5,614v1M179.5,618v1"/>
<!-- handles -->
<rect x="2" y="24" width="1" height="459" fill="#000"/>
<g>
<rect x="2" y="81" width="1" height="6" fill="#ff0000"/><rect x="3" y="86" width="1" height="1" fill="#ff0000"/>
<rect x="1159" y="81" width="6" height="6" fill="#ff0000"/><rect x="1161" y="83" width="2" height="2" fill="#fff"/>
<rect x="2" y="171" width="6" height="6" fill="#00ff00"/><rect x="4" y="173" width="2" height="2" fill="#fff"/>
<rect x="1159" y="171" width="6" height="6" fill="#00ff00"/><rect x="1161" y="173" width="2" height="2" fill="#fff"/>
<rect x="2" y="247" width="6" height="6" fill="#0000ff"/><rect x="4" y="249" width="2" height="2" fill="#fff"/>
<rect x="1159" y="247" width="6" height="6" fill="#0000ff"/><rect x="1161" y="249" width="2" height="2" fill="#fff"/>
</g>
<!-- rsi levels -->
<g stroke="#c0c0c0" stroke-width="1" stroke-dasharray="3,3">
<line x1="4" y1="598.5" x2="1165" y2="598.5"/><line x1="4" y1="632.5" x2="1165" y2="632.5"/>
</g>
<!-- axis ticks -->
<g fill="#000">
<rect x="1166" y="84" width="1" height="1"/><rect x="1166" y="174" width="1" height="1"/><rect x="1166" y="250" width="1" height="1"/><rect x="1166" y="51" width="2" height="1"/><rect x="1166" y="117" width="2" height="1"/><rect x="1166" y="150" width="2" height="1"/>
<rect x="1166" y="183" width="2" height="1"/><rect x="1166" y="216" width="2" height="1"/><rect x="1166" y="282" width="2" height="1"/>
<rect x="1166" y="315" width="2" height="1"/><rect x="1166" y="348" width="2" height="1"/><rect x="1166" y="381" width="2" height="1"/>
<rect x="1166" y="414" width="2" height="1"/><rect x="1166" y="480" width="2" height="1"/>
<rect x="1166" y="527" width="2" height="1"/><rect x="1166" y="658" width="2" height="1"/>
<!-- date ticks -->
<rect x="3" y="659" width="1" height="3"/><rect x="67" y="659" width="1" height="3"/><rect x="131" y="659" width="1" height="3"/><rect x="195" y="659" width="1" height="3"/>
<rect x="259" y="659" width="1" height="3"/><rect x="323" y="659" width="1" height="3"/><rect x="387" y="659" width="1" height="3"/><rect x="451" y="659" width="1" height="3"/>
<rect x="515" y="659" width="1" height="3"/><rect x="579" y="659" width="1" height="3"/><rect x="643" y="659" width="1" height="3"/><rect x="707" y="659" width="1" height="3"/>
<rect x="771" y="659" width="1" height="3"/><rect x="835" y="659" width="1" height="3"/><rect x="899" y="659" width="1" height="3"/>
<polygon points="6,34.5 13,34.5 9.5,30"/>
</g>
</svg>
<!-- header text -->
<div class="abs" id="h1" style="left:18px;top:28px;font-size:9.8px">USDCAD,Daily</div>
<div class="abs" id="h2" style="left:90.5px;top:28px;font-size:9.8px;word-spacing:0.8px;transform:scaleX(0.92);transform-origin:0 0">1.26057 1.26142 1.26005 1.26057</div>
<div class="abs" id="ml" style="left:7.4px;top:491px;font-size:9.8px;transform:scaleX(0.93);transform-origin:0 0">MACD(12,26,9) 0.002346 0.004555</div>
<div class="abs" id="rl" style="left:7.4px;top:577px;font-size:9.8px;transform:scaleX(0.93);transform-origin:0 0">RSI(14) 49.9072</div>
<!-- price axis -->
<div class="ax" style="top:47px">1.29440</div>
<div class="ax" style="top:113px">1.27960</div>
<div class="ax" style="top:146px">1.27240</div>
<div class="ax" style="top:179px">1.26500</div>
<div class="ax" style="top:212px">1.25760</div>
<div class="ax" style="top:278px">1.24280</div>
<div class="ax" style="top:311px">1.23560</div>
<div class="ax" style="top:344px">1.22820</div>
<div class="ax" style="top:377px">1.22080</div>
<div class="ax" style="top:410px">1.21340</div>
<div class="ax" style="top:476px">1.19880</div>
<div class="ax" style="top:488px;left:1169px">0.01135</div>
<div class="ax" style="top:523px;left:1169px">0.00</div>
<div class="ax" style="top:558px;left:1169px;letter-spacing:0.35px">-0.011904</div>
<div class="ax" style="top:574px;left:1169px">100</div>
<div class="ax" style="top:594px;left:1169px">70</div>
<div class="ax" style="top:628px;left:1169px">30</div>
<div class="ax" style="top:647px;left:1169px">0</div>
<div class="tag" style="top:78px;background:#ff0000"><span>1.28700</span></div>
<div class="tag" style="top:168px;background:#00ff00"><span>1.26700</span></div>
<div class="tag" style="top:198px;background:#000"><span>1.26057</span></div>
<div class="tag" style="top:244px;background:#0000ff"><span>1.25003</span></div>
<div class="tag" style="top:334px;background:#0000ff"><span>1.23003</span></div>
<div class="tag" style="top:441px;background:#0000ff"><span>1.20609</span></div>
<!-- dates -->
<div class="dt" style="left:2px">3 Dec 2020</div><div class="dt" style="left:66px">22 Dec 2020</div><div class="dt" style="left:130px">12 Jan 2021</div>
<div class="dt" style="left:194px">30 Jan 2021</div><div class="dt" style="left:258px">18 Feb 2021</div><div class="dt" style="left:322px">9 Mar 2021</div>
<div class="dt" style="left:386px">27 Mar 2021</div><div class="dt" style="left:450px">15 Apr 2021</div><div class="dt" style="left:514px">4 May 2021</div>
<div class="dt" style="left:578px">22 May 2021</div><div class="dt" style="left:642px">10 Jun 2021</div><div class="dt" style="left:706px">29 Jun 2021</div>
<div class="dt" style="left:770px">17 Jul 2021</div><div class="dt" style="left:834px">5 Aug 2021</div><div class="dt" style="left:898px">24 Aug 2021</div>
<!-- tab bar -->
<div class="abs" style="left:0;top:680px;width:1207px;height:1px;background:#e3e3e3"></div>
<div class="abs" style="left:0;top:681px;width:1207px;height:1px;background:#000"></div>
<div class="abs" style="left:0;top:682px;width:1207px;height:1px;background:#9a9a9a"></div>
<div class="abs" style="left:0;top:701px;width:1207px;height:2px;background:#fbfbfb"></div>
<div class="abs" style="left:288px;top:681px;width:102px;height:18px;background:#fff;border:1px solid #000;border-top:none"></div>
<div class="tab" style="left:16px">EURUSD,H4</div><div class="sep" style="left:96px"></div>
<div class="tab" style="left:107px">AUDUSD,Daily</div><div class="sep" style="left:200px"></div>
<div class="tab" style="left:210px">USDCHF,H4</div>
<div class="tab" style="left:299px;color:#000">USDCAD,Daily</div>
<div class="tab" style="left:402px">USDCNH,Daily</div><div class="sep" style="left:496px"></div>
<div class="tab" style="left:508px">UKOil,H1</div><div class="sep" style="left:572px"></div>
<div class="tab" style="left:582px">DJ30,H1</div><div class="sep" style="left:640px"></div>
<div class="tab" style="left:652px">USDX,H1</div><div class="sep" style="left:716px"></div>
<div class="tab" style="left:727px">XAUUSD,H1</div><div class="sep" style="left:808px"></div>
<div class="tab" style="left:820px">GBPUSD,H1</div><div class="sep" style="left:900px"></div>
<svg width="1207" height="703" viewBox="0 0 1207 703" style="pointer-events:none">
<polygon points="1181,690.5 1185,686.5 1185,694.5" fill="#a0a0a0"/>
<polygon points="1203,690.5 1199,686.5 1199,694.5" fill="#a0a0a0"/>
</svg>
<!-- one click trading panel -->
<div id="panel">
<div style="left:4px;top:41px;width:223px;height:61px;background:#fff"></div>
<div style="left:6px;top:43px;width:52px;height:24px;background:linear-gradient(#5555f7,#3c3ce6)"></div>
<div style="left:173px;top:43px;width:52px;height:24px;background:linear-gradient(#5555f7,#3c3ce6)"></div>
<div style="left:6px;top:67px;width:109px;height:33px;background:linear-gradient(#3a3ae2,#0a0aa8)"></div>
<div style="left:117px;top:67px;width:108px;height:33px;background:linear-gradient(#3a3ae2,#0a0aa8)"></div>
<div style="left:58px;top:43px;width:115px;height:24px;background:#fff"></div>
<div style="left:115px;top:67px;width:2px;height:33px;background:#fff"></div>
<div style="left:10px;top:66px;width:44px;height:1px;background:#0a0a8c"></div>
<div style="left:10px;top:67px;width:44px;height:1px;background:#8080ff"></div>
<div style="left:177px;top:66px;width:44px;height:1px;background:#0a0a8c"></div>
<div style="left:177px;top:67px;width:44px;height:1px;background:#8080ff"></div>
<div style="left:6px;top:43px;width:1px;height:57px;background:rgba(0,0,130,0.85)"></div>
<div style="left:6px;top:43px;width:52px;height:1px;background:rgba(0,0,130,0.85)"></div>
<div style="left:57px;top:43px;width:1px;height:25px;background:rgba(0,0,130,0.85)"></div>
<div style="left:57px;top:67px;width:58px;height:1px;background:rgba(0,0,130,0.85)"></div>
<div style="left:114px;top:67px;width:1px;height:33px;background:rgba(0,0,130,0.85)"></div>
<div style="left:6px;top:99px;width:109px;height:1px;background:rgba(0,0,130,0.85)"></div>
<div style="left:224px;top:43px;width:1px;height:57px;background:rgba(0,0,130,0.85)"></div>
<div style="left:173px;top:43px;width:52px;height:1px;background:rgba(0,0,130,0.85)"></div>
<div style="left:173px;top:43px;width:1px;height:25px;background:rgba(0,0,130,0.85)"></div>
<div style="left:117px;top:67px;width:57px;height:1px;background:rgba(0,0,130,0.85)"></div>
<div style="left:117px;top:67px;width:1px;height:33px;background:rgba(0,0,130,0.85)"></div>
<div style="left:117px;top:99px;width:108px;height:1px;background:rgba(0,0,130,0.85)"></div>
<div style="left:60px;top:43px;width:110px;height:20px;background:#fff;border:1px solid #b4b4b4"></div>
<div style="left:62px;top:45px;width:19px;height:18px;background:linear-gradient(#ececec,#cdcdcd);border-right:1px solid #c0c0c0"></div>
<div style="left:150px;top:45px;width:20px;height:18px;background:linear-gradient(#ececec,#cdcdcd);border-left:1px solid #c0c0c0"></div>
<div style="left:18px;top:48.5px;font-size:12.5px;color:#fff;transform:scaleX(0.82);transform-origin:0 0">SELL</div>
<div style="left:186.5px;top:48.5px;font-size:12.5px;color:#fff;transform:scaleX(0.89);transform-origin:0 0">BUY</div>
<div style="left:122px;top:48px;font-size:12px;color:#000">3.00</div>
<div style="left:26.5px;top:84.5px;font-size:12px;font-weight:bold;color:#fff">1.26</div>
<div style="left:136.5px;top:84.5px;font-size:12px;font-weight:bold;color:#fff">1.26</div>
<div style="left:93px;top:69px;font-size:12.5px;font-weight:bold;color:#fff">0</div>
<div style="left:203px;top:69px;font-size:12.5px;font-weight:bold;color:#fff">4</div>
</div>
<svg width="1207" height="703" viewBox="0 0 1207 703" style="pointer-events:none">
<defs><linearGradient id="pg" gradientUnits="userSpaceOnUse" x1="0" y1="67" x2="0" y2="100"><stop offset="0" stop-color="#3a3ae2"/><stop offset="1" stop-color="#0a0aa8"/></linearGradient></defs>
<g font-family="Liberation Sans, sans-serif" font-size="33.6" fill="#fff" stroke="url(#pg)" stroke-width="0.7" letter-spacing="-2">
<text x="53.6" y="95.2">06</text><text x="164" y="95.2">07</text></g>
<polygon points="68,52 74,52 71,55.5" fill="#5f72c4"/>
<polygon points="157,55.5 163,55.5 160,52" fill="#5f72c4"/>
</svg>
</body></html>
